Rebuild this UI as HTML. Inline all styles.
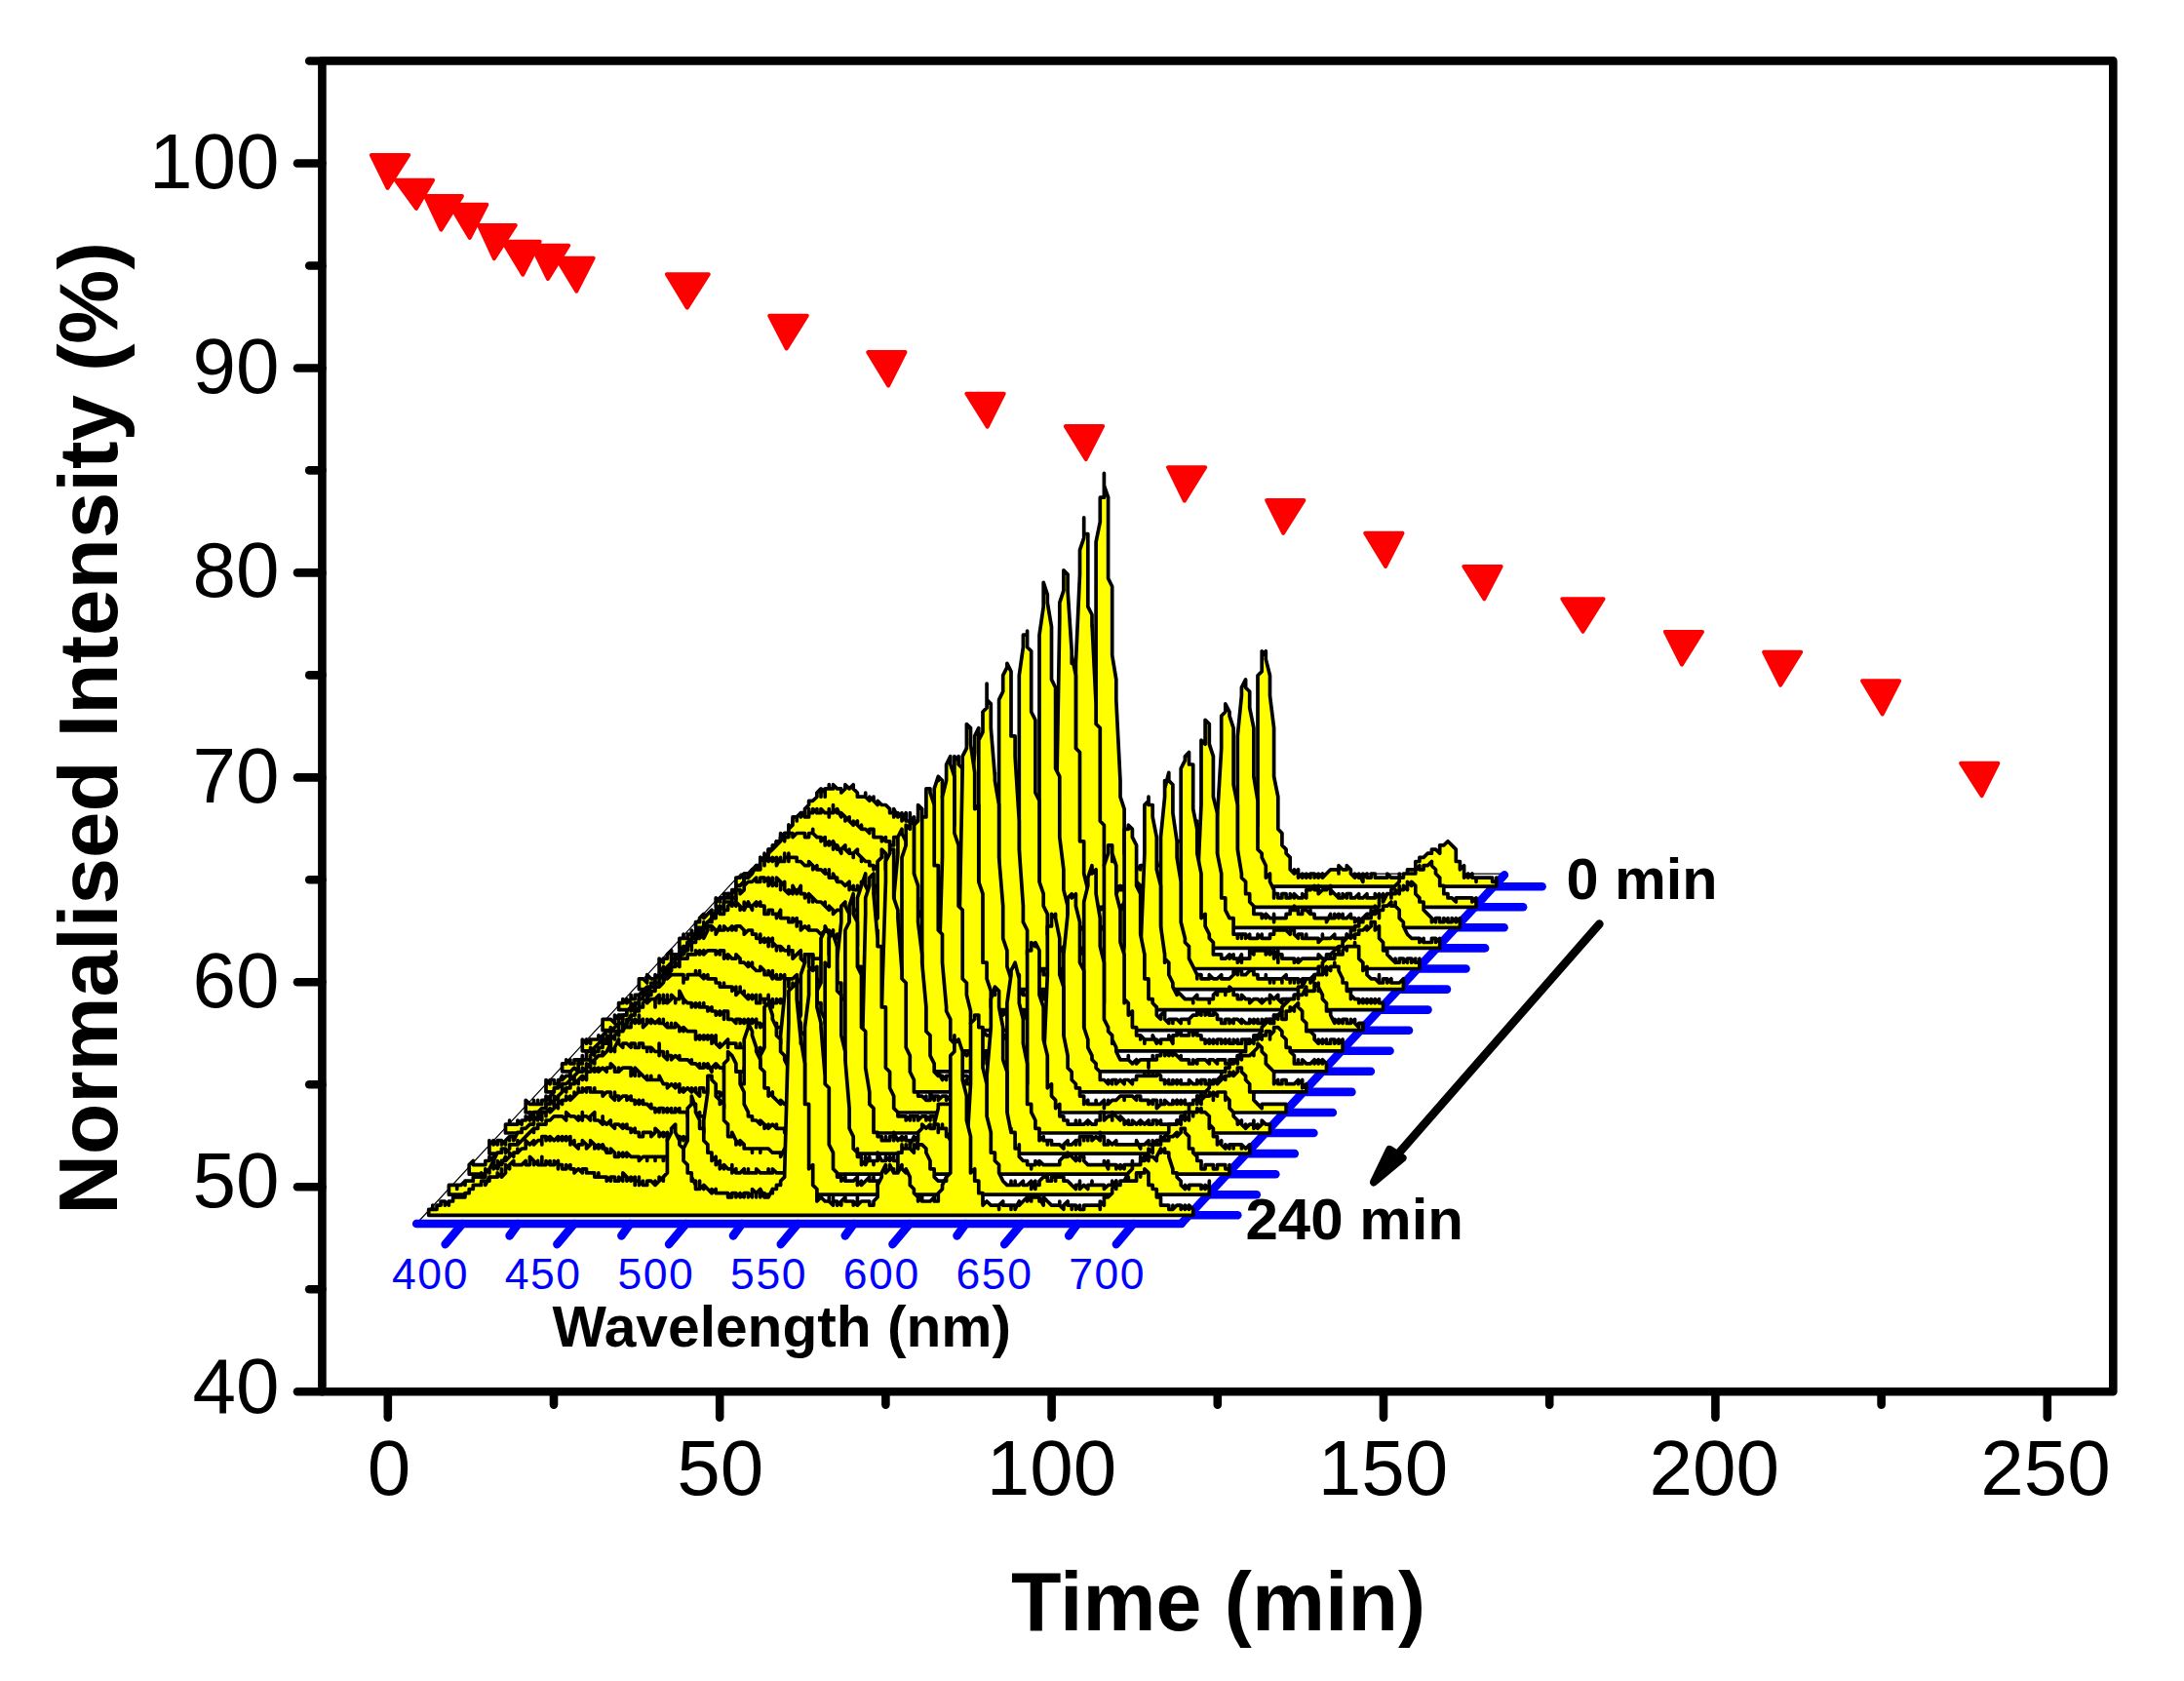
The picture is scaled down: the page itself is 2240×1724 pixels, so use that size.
<!DOCTYPE html>
<html lang="en">
<head>
<meta charset="utf-8">
<title>Normalised Intensity vs Time</title>
<style>
html,body{margin:0;padding:0;background:#fff;}
body{width:2240px;height:1724px;overflow:hidden;}
svg{display:block;}
</style>
</head>
<body>
<svg width="2240" height="1724" viewBox="0 0 2240 1724">
<rect x="0" y="0" width="2240" height="1724" fill="#ffffff"/>
<g fill="#ff0000" stroke="#ff0000" stroke-width="4" stroke-linejoin="round">
<path d="M380.9 159.0H419.2L397.5 192.9Z"/>
<path d="M405.8 184.8H444.1L426.9 213.9Z"/>
<path d="M436.1 201.1H473.9L452.4 235.6Z"/>
<path d="M461.3 209.8H499.3L481.8 243.9Z"/>
<path d="M491.0 230.9H528.8L506.8 265.2Z"/>
<path d="M515.7 247.7H553.7L536.3 281.6Z"/>
<path d="M545.2 251.7H583.2L562.0 286.0Z"/>
<path d="M570.7 264.7H608.7L591.3 298.6Z"/>
<path d="M683.9 281.2H726.8L704.8 315.6Z"/>
<path d="M789.2 323.8H827.8L806.7 357.5Z"/>
<path d="M890.2 361.1H928.5L911.1 395.5Z"/>
<path d="M991.4 403.7H1029.7L1012.7 437.6Z"/>
<path d="M1092.8 437.1H1131.1L1113.7 471.0Z"/>
<path d="M1198.0 479.2H1236.2L1214.8 513.6Z"/>
<path d="M1299.2 513.1H1337.3L1316.2 546.8Z"/>
<path d="M1400.2 546.8H1438.5L1421.1 580.9Z"/>
<path d="M1501.4 580.9H1539.7L1522.3 614.3Z"/>
<path d="M1602.3 614.3H1644.6L1623.5 647.8Z"/>
<path d="M1707.9 647.9H1746.0L1724.9 681.6Z"/>
<path d="M1809.1 668.8H1847.2L1826.1 702.7Z"/>
<path d="M1910.0 698.3H1948.1L1930.7 732.4Z"/>
<path d="M2011.2 782.8H2049.3L2032.6 816.2Z"/>
</g>
<path d="M427.2 1255.0L759.7 896.2L1544.0 896.2" fill="none" stroke="#000" stroke-width="1.2"/>
<g stroke="#0000ff" stroke-width="8.6" stroke-linecap="round" fill="none">
<path d="M427.2 1255.0H1211.8"/>
<path d="M1211.8 1254.7L1542.9 897.4"/>
<path d="M474.3 1255.0l-17.6 21.1"/>
<path d="M531.6 1255.0l-9.0 12.4"/>
<path d="M589.0 1255.0l-17.6 21.1"/>
<path d="M646.4 1255.0l-9.0 12.4"/>
<path d="M703.7 1255.0l-17.6 21.1"/>
<path d="M761.0 1255.0l-9.0 12.4"/>
<path d="M818.4 1255.0l-17.6 21.1"/>
<path d="M875.8 1255.0l-9.0 12.4"/>
<path d="M933.1 1255.0l-17.6 21.1"/>
<path d="M990.5 1255.0l-9.0 12.4"/>
<path d="M1047.8 1255.0l-17.6 21.1"/>
<path d="M1105.2 1255.0l-9.0 12.4"/>
<path d="M1162.5 1255.0l-17.6 21.1"/>
<path d="M1531.9 909.2h49.7"/>
<path d="M1512.4 930.3h49.7"/>
<path d="M1492.9 951.3h49.7"/>
<path d="M1473.4 972.4h49.7"/>
<path d="M1453.8 993.5h49.7"/>
<path d="M1434.3 1014.6h49.7"/>
<path d="M1414.8 1035.6h49.7"/>
<path d="M1395.3 1056.7h49.7"/>
<path d="M1375.8 1077.8h49.7"/>
<path d="M1356.2 1098.8h49.7"/>
<path d="M1336.7 1119.9h49.7"/>
<path d="M1317.2 1141.0h49.7"/>
<path d="M1297.7 1162.0h49.7"/>
<path d="M1278.1 1183.1h49.7"/>
<path d="M1258.6 1204.2h49.7"/>
<path d="M1239.1 1225.2h49.7"/>
<path d="M1219.6 1246.3h49.7"/>
</g>
<g fill="#ffff00" stroke="#000000" stroke-width="3.7" stroke-linejoin="round" stroke-linecap="round">
<path d="M754.9 909.2L754.9 900.1L759.1 900.1L763.2 896.0L767.4 896.0L771.5 896.0L771.5 891.8L775.7 891.8L779.8 887.7L779.8 883.5L784.0 883.5L784.0 879.4L788.1 879.4L788.1 871.1L792.3 871.1L796.4 866.9L796.4 862.8L800.6 862.8L800.6 858.6L804.7 858.6L804.7 854.5L808.9 854.5L808.9 846.2L813.0 850.3L813.0 842.0L817.2 842.0L817.2 837.9L821.3 837.9L821.3 833.7L825.5 833.7L825.5 829.6L829.6 825.5L829.6 821.3L829.6 825.5L829.6 821.3L833.7 821.3L837.9 817.2L837.9 813.0L842.0 808.9L842.0 817.2L842.0 813.0L846.2 808.9L846.2 817.2L846.2 808.9L850.3 808.9L850.3 804.7L850.3 808.9L854.5 808.9L854.5 804.7L858.6 808.9L862.8 808.9L862.8 813.0L866.9 808.9L866.9 804.7L871.1 808.9L875.2 804.7L875.2 808.9L879.4 813.0L879.4 817.2L883.5 817.2L887.7 817.2L887.7 813.0L887.7 817.2L891.8 821.3L891.8 817.2L896.0 821.3L896.0 817.2L896.0 821.3L900.1 825.5L900.1 821.3L904.3 825.5L908.4 825.5L912.6 829.6L912.6 833.7L916.7 833.7L916.7 829.6L916.7 837.9L916.7 829.6L920.9 837.9L920.9 833.7L920.9 837.9L925.0 833.7L925.0 842.0L929.2 833.7L929.2 842.0L933.3 842.0L937.4 837.9L937.4 842.0L941.6 842.0L941.6 846.2L941.6 837.9L945.7 842.0L949.9 846.2L954.0 842.0L954.0 846.2L958.2 846.2L958.2 842.0L958.2 846.2L962.3 846.2L962.3 842.0L966.5 850.3L966.5 846.2L966.5 850.3L970.6 850.3L970.6 846.2L974.8 846.2L974.8 850.3L974.8 846.2L978.9 850.3L978.9 854.5L983.1 846.2L983.1 850.3L987.2 850.3L987.2 854.5L991.4 850.3L991.4 842.0L995.5 837.9L995.5 821.3L999.7 771.5L999.7 754.9L1003.8 746.6L1003.8 759.1L1008.0 767.4L1008.0 779.8L1012.1 792.3L1012.1 808.9L1016.3 808.9L1016.3 821.3L1020.4 825.5L1020.4 846.2L1024.6 850.3L1024.6 854.5L1028.7 854.5L1028.7 862.8L1032.9 862.8L1037.0 862.8L1037.0 866.9L1041.1 866.9L1041.1 871.1L1045.3 866.9L1045.3 871.1L1045.3 866.9L1045.3 871.1L1049.4 871.1L1053.6 871.1L1053.6 875.2L1053.6 871.1L1057.7 871.1L1057.7 875.2L1061.9 871.1L1061.9 875.2L1066.0 879.4L1066.0 875.2L1070.2 875.2L1070.2 871.1L1074.3 875.2L1074.3 879.4L1074.3 875.2L1078.5 879.4L1078.5 883.5L1078.5 875.2L1082.6 875.2L1082.6 879.4L1086.8 879.4L1086.8 875.2L1090.9 875.2L1095.1 875.2L1095.1 879.4L1099.2 875.2L1099.2 879.4L1099.2 875.2L1103.4 879.4L1107.5 879.4L1107.5 871.1L1111.7 875.2L1111.7 866.9L1111.7 871.1L1115.8 862.8L1115.8 858.6L1120.0 858.6L1120.0 846.2L1124.1 837.9L1124.1 555.8L1128.3 535.1L1128.3 510.2L1132.4 510.2L1132.4 485.3L1132.4 497.8L1136.6 510.2L1136.6 593.2L1140.7 601.5L1140.7 672.0L1144.8 696.9L1144.8 717.6L1149.0 800.6L1149.0 817.2L1153.1 829.6L1153.1 875.2L1157.3 875.2L1157.3 887.7L1161.4 887.7L1165.6 891.8L1169.7 887.7L1169.7 891.8L1169.7 887.7L1173.9 887.7L1173.9 891.8L1178.0 887.7L1178.0 891.8L1178.0 887.7L1182.2 887.7L1182.2 891.8L1186.3 891.8L1186.3 887.7L1186.3 891.8L1190.5 891.8L1190.5 887.7L1190.5 891.8L1194.6 887.7L1198.8 887.7L1198.8 891.8L1202.9 891.8L1202.9 887.7L1207.1 887.7L1207.1 891.8L1211.2 887.7L1211.2 879.4L1215.4 866.9L1215.4 842.0L1219.5 842.0L1219.5 837.9L1219.5 842.0L1219.5 837.9L1223.7 837.9L1223.7 842.0L1227.8 846.2L1227.8 842.0L1227.8 846.2L1232.0 846.2L1232.0 837.9L1236.1 842.0L1236.1 846.2L1236.1 842.0L1240.3 842.0L1240.3 833.7L1240.3 842.0L1244.4 854.5L1244.4 862.8L1248.5 866.9L1248.5 875.2L1252.7 883.5L1252.7 887.7L1256.8 887.7L1261.0 887.7L1265.1 891.8L1265.1 887.7L1269.3 887.7L1269.3 891.8L1273.4 891.8L1273.4 887.7L1277.6 887.7L1277.6 879.4L1281.7 879.4L1281.7 871.1L1285.9 866.9L1285.9 854.5L1290.0 846.2L1290.0 692.7L1294.2 688.6L1294.2 667.8L1294.2 672.0L1298.3 667.8L1298.3 676.1L1302.5 692.7L1302.5 713.5L1306.6 746.6L1306.6 796.4L1310.8 817.2L1310.8 850.3L1314.9 854.5L1314.9 866.9L1319.1 871.1L1319.1 875.2L1323.2 879.4L1323.2 891.8L1327.4 896.0L1327.4 891.8L1327.4 896.0L1331.5 891.8L1331.5 900.1L1331.5 896.0L1335.7 900.1L1335.7 896.0L1339.8 900.1L1339.8 896.0L1344.0 900.1L1344.0 896.0L1348.1 896.0L1348.1 900.1L1348.1 896.0L1352.2 900.1L1352.2 896.0L1352.2 900.1L1356.4 896.0L1356.4 900.1L1360.5 896.0L1364.7 891.8L1368.8 891.8L1373.0 891.8L1373.0 896.0L1373.0 887.7L1377.1 891.8L1381.3 891.8L1381.3 887.7L1385.4 891.8L1385.4 896.0L1389.6 900.1L1389.6 896.0L1393.7 900.1L1393.7 896.0L1397.9 904.3L1397.9 896.0L1397.9 900.1L1402.0 896.0L1402.0 900.1L1406.2 900.1L1406.2 896.0L1410.3 896.0L1410.3 900.1L1414.5 900.1L1418.6 900.1L1422.8 900.1L1422.8 896.0L1426.9 900.1L1431.1 900.1L1435.2 900.1L1435.2 896.0L1435.2 900.1L1439.4 900.1L1443.5 896.0L1443.5 891.8L1447.7 891.8L1451.8 891.8L1451.8 883.5L1455.9 883.5L1455.9 879.4L1460.1 879.4L1464.2 875.2L1468.4 875.2L1468.4 871.1L1472.5 871.1L1476.7 875.2L1476.7 866.9L1480.8 866.9L1485.0 862.8L1489.1 866.9L1493.3 871.1L1493.3 883.5L1497.4 883.5L1497.4 891.8L1501.6 887.7L1501.6 900.1L1505.7 896.0L1505.7 900.1L1509.9 896.0L1509.9 900.1L1514.0 900.1L1514.0 904.3L1514.0 900.1L1518.2 900.1L1522.3 900.1L1526.5 900.1L1530.6 900.1L1530.6 904.3L1534.8 904.3L1534.8 900.1L1534.8 909.2Z"/>
<path d="M734.2 930.3L734.2 920.9L738.3 925.0L738.3 920.9L742.5 920.9L742.5 916.7L746.6 916.7L750.8 916.7L750.8 920.9L750.8 916.7L754.9 912.6L754.9 908.4L759.1 908.4L763.2 904.3L763.2 900.1L767.4 896.0L767.4 900.1L767.4 896.0L771.5 896.0L771.5 891.8L775.7 887.7L775.7 891.8L775.7 887.7L779.8 887.7L779.8 879.4L784.0 883.5L784.0 879.4L788.1 879.4L788.1 871.1L792.3 871.1L792.3 866.9L796.4 866.9L796.4 862.8L796.4 866.9L800.6 862.8L800.6 858.6L804.7 854.5L808.9 854.5L808.9 846.2L808.9 850.3L813.0 846.2L813.0 837.9L817.2 837.9L817.2 842.0L817.2 837.9L821.3 833.7L821.3 837.9L825.5 833.7L825.5 837.9L829.6 837.9L829.6 829.6L829.6 833.7L833.7 833.7L833.7 829.6L837.9 833.7L837.9 829.6L837.9 833.7L842.0 833.7L842.0 829.6L846.2 833.7L850.3 833.7L850.3 829.6L850.3 837.9L850.3 833.7L854.5 833.7L854.5 825.5L854.5 829.6L858.6 833.7L858.6 829.6L862.8 837.9L862.8 833.7L866.9 837.9L866.9 842.0L871.1 837.9L871.1 842.0L875.2 846.2L875.2 842.0L875.2 846.2L879.4 842.0L879.4 846.2L883.5 850.3L883.5 846.2L883.5 850.3L887.7 850.3L891.8 854.5L891.8 850.3L896.0 850.3L896.0 858.6L900.1 858.6L904.3 858.6L904.3 862.8L904.3 858.6L908.4 862.8L908.4 858.6L908.4 862.8L912.6 862.8L912.6 866.9L916.7 866.9L916.7 858.6L920.9 858.6L920.9 862.8L925.0 866.9L925.0 862.8L925.0 866.9L929.2 866.9L933.3 866.9L933.3 871.1L937.4 866.9L937.4 862.8L937.4 866.9L941.6 866.9L941.6 871.1L945.7 871.1L945.7 866.9L949.9 871.1L949.9 866.9L949.9 871.1L954.0 871.1L954.0 866.9L958.2 875.2L958.2 871.1L962.3 871.1L962.3 875.2L966.5 871.1L966.5 875.2L970.6 871.1L970.6 875.2L974.8 866.9L974.8 854.5L978.9 846.2L978.9 775.7L983.1 779.8L983.1 775.7L983.1 784.0L987.2 788.1L987.2 804.7L991.4 813.0L991.4 821.3L995.5 825.5L995.5 842.0L999.7 846.2L999.7 858.6L1003.8 866.9L1003.8 875.2L1008.0 879.4L1008.0 883.5L1012.1 879.4L1012.1 887.7L1016.3 887.7L1020.4 887.7L1020.4 891.8L1024.6 887.7L1024.6 891.8L1024.6 887.7L1028.7 887.7L1028.7 896.0L1028.7 891.8L1032.9 896.0L1032.9 891.8L1032.9 896.0L1037.0 896.0L1041.1 896.0L1041.1 900.1L1045.3 900.1L1045.3 896.0L1049.4 900.1L1049.4 896.0L1053.6 896.0L1053.6 900.1L1057.7 896.0L1057.7 900.1L1061.9 900.1L1061.9 896.0L1066.0 896.0L1066.0 900.1L1066.0 896.0L1066.0 900.1L1070.2 900.1L1070.2 891.8L1070.2 896.0L1074.3 900.1L1074.3 896.0L1078.5 896.0L1078.5 900.1L1082.6 900.1L1086.8 896.0L1090.9 896.0L1090.9 887.7L1095.1 887.7L1095.1 879.4L1099.2 883.5L1099.2 871.1L1103.4 866.9L1103.4 680.3L1107.5 589.0L1107.5 564.1L1111.7 551.7L1111.7 530.9L1111.7 547.5L1115.8 547.5L1115.8 622.2L1120.0 630.5L1120.0 642.9L1120.0 638.8L1124.1 721.8L1124.1 742.5L1128.3 746.6L1128.3 842.0L1132.4 846.2L1132.4 887.7L1136.6 891.8L1136.6 904.3L1140.7 908.4L1144.8 908.4L1144.8 916.7L1149.0 908.4L1149.0 912.6L1153.1 912.6L1153.1 908.4L1153.1 912.6L1157.3 912.6L1157.3 908.4L1157.3 912.6L1161.4 908.4L1161.4 912.6L1165.6 908.4L1165.6 912.6L1169.7 912.6L1169.7 908.4L1173.9 912.6L1173.9 908.4L1178.0 912.6L1182.2 912.6L1186.3 912.6L1186.3 908.4L1190.5 912.6L1190.5 904.3L1194.6 900.1L1194.6 875.2L1198.8 862.8L1198.8 858.6L1202.9 866.9L1202.9 862.8L1207.1 862.8L1211.2 862.8L1215.4 862.8L1215.4 866.9L1215.4 862.8L1219.5 862.8L1219.5 858.6L1219.5 862.8L1223.7 866.9L1223.7 883.5L1227.8 887.7L1227.8 891.8L1232.0 896.0L1232.0 904.3L1236.1 908.4L1240.3 908.4L1240.3 912.6L1240.3 908.4L1244.4 908.4L1244.4 912.6L1244.4 908.4L1248.5 912.6L1248.5 908.4L1248.5 912.6L1252.7 908.4L1252.7 912.6L1256.8 908.4L1256.8 904.3L1261.0 900.1L1265.1 891.8L1265.1 883.5L1269.3 879.4L1269.3 754.9L1273.4 713.5L1273.4 705.2L1277.6 696.9L1277.6 705.2L1281.7 709.3L1281.7 725.9L1285.9 746.6L1285.9 796.4L1290.0 821.3L1290.0 871.1L1294.2 875.2L1294.2 879.4L1298.3 887.7L1298.3 900.1L1302.5 896.0L1302.5 904.3L1306.6 912.6L1306.6 920.9L1306.6 916.7L1310.8 916.7L1310.8 920.9L1314.9 920.9L1314.9 916.7L1319.1 916.7L1319.1 920.9L1323.2 920.9L1323.2 916.7L1327.4 920.9L1327.4 916.7L1331.5 920.9L1335.7 920.9L1335.7 916.7L1339.8 920.9L1339.8 912.6L1344.0 912.6L1348.1 908.4L1348.1 912.6L1352.2 912.6L1352.2 916.7L1352.2 908.4L1352.2 916.7L1356.4 912.6L1360.5 912.6L1364.7 908.4L1364.7 916.7L1364.7 912.6L1368.8 916.7L1373.0 920.9L1373.0 916.7L1373.0 920.9L1377.1 920.9L1377.1 916.7L1381.3 920.9L1381.3 916.7L1385.4 916.7L1385.4 920.9L1389.6 920.9L1393.7 916.7L1393.7 920.9L1397.9 920.9L1402.0 916.7L1402.0 920.9L1406.2 920.9L1410.3 920.9L1410.3 916.7L1410.3 920.9L1414.5 916.7L1414.5 920.9L1418.6 920.9L1422.8 916.7L1422.8 920.9L1426.9 916.7L1426.9 912.6L1431.1 908.4L1435.2 904.3L1435.2 900.1L1439.4 900.1L1439.4 896.0L1443.5 896.0L1447.7 896.0L1451.8 896.0L1451.8 891.8L1455.9 887.7L1455.9 891.8L1460.1 891.8L1460.1 887.7L1464.2 887.7L1468.4 883.5L1468.4 887.7L1472.5 891.8L1472.5 896.0L1476.7 900.1L1476.7 908.4L1480.8 908.4L1480.8 916.7L1485.0 916.7L1485.0 920.9L1489.1 920.9L1493.3 925.0L1493.3 920.9L1497.4 920.9L1501.6 920.9L1505.7 920.9L1509.9 920.9L1509.9 925.0L1514.0 920.9L1514.0 930.3Z"/>
<path d="M713.5 951.3L713.5 945.7L717.6 945.7L717.6 941.6L721.8 937.4L721.8 941.6L725.9 937.4L730.0 933.3L730.0 937.4L734.2 937.4L738.3 929.2L738.3 933.3L742.5 929.2L742.5 925.0L746.6 925.0L746.6 916.7L750.8 916.7L750.8 912.6L754.9 912.6L759.1 908.4L763.2 904.3L763.2 896.0L767.4 896.0L771.5 891.8L771.5 896.0L775.7 891.8L779.8 887.7L779.8 883.5L784.0 883.5L784.0 875.2L784.0 879.4L788.1 875.2L792.3 871.1L796.4 866.9L796.4 862.8L796.4 866.9L800.6 862.8L800.6 854.5L804.7 862.8L804.7 854.5L804.7 858.6L808.9 858.6L808.9 854.5L813.0 854.5L813.0 858.6L817.2 854.5L821.3 854.5L825.5 854.5L825.5 858.6L829.6 858.6L829.6 854.5L829.6 858.6L829.6 854.5L833.7 854.5L833.7 850.3L833.7 854.5L837.9 858.6L842.0 858.6L842.0 862.8L846.2 858.6L846.2 866.9L846.2 862.8L850.3 866.9L850.3 862.8L850.3 866.9L854.5 862.8L854.5 871.1L854.5 862.8L858.6 871.1L858.6 866.9L862.8 875.2L862.8 871.1L866.9 866.9L866.9 871.1L871.1 875.2L871.1 871.1L871.1 875.2L875.2 875.2L875.2 879.4L875.2 875.2L879.4 871.1L879.4 875.2L883.5 879.4L883.5 883.5L883.5 879.4L887.7 883.5L891.8 883.5L891.8 887.7L896.0 887.7L896.0 891.8L896.0 887.7L900.1 891.8L900.1 887.7L904.3 891.8L908.4 887.7L908.4 883.5L912.6 891.8L912.6 887.7L916.7 891.8L916.7 887.7L916.7 891.8L920.9 891.8L925.0 891.8L925.0 896.0L925.0 891.8L929.2 891.8L929.2 896.0L933.3 891.8L933.3 896.0L937.4 896.0L937.4 891.8L937.4 900.1L941.6 896.0L941.6 891.8L945.7 900.1L945.7 891.8L945.7 900.1L949.9 896.0L949.9 891.8L954.0 891.8L954.0 883.5L958.2 879.4L958.2 808.9L962.3 796.4L962.3 800.6L962.3 796.4L966.5 800.6L966.5 817.2L970.6 829.6L970.6 846.2L974.8 850.3L974.8 862.8L978.9 866.9L978.9 879.4L983.1 891.8L983.1 896.0L987.2 900.1L987.2 896.0L987.2 904.3L991.4 904.3L991.4 908.4L991.4 904.3L995.5 904.3L995.5 908.4L999.7 912.6L1003.8 908.4L1003.8 912.6L1008.0 912.6L1012.1 912.6L1016.3 916.7L1016.3 920.9L1020.4 916.7L1020.4 920.9L1020.4 916.7L1024.6 920.9L1024.6 916.7L1024.6 920.9L1028.7 920.9L1028.7 916.7L1032.9 916.7L1032.9 920.9L1037.0 916.7L1037.0 920.9L1037.0 916.7L1041.1 920.9L1041.1 925.0L1041.1 912.6L1045.3 916.7L1045.3 920.9L1049.4 920.9L1053.6 920.9L1053.6 916.7L1057.7 920.9L1057.7 916.7L1057.7 920.9L1061.9 920.9L1061.9 925.0L1066.0 916.7L1066.0 920.9L1066.0 916.7L1070.2 920.9L1070.2 916.7L1074.3 912.6L1074.3 908.4L1078.5 908.4L1078.5 900.1L1082.6 896.0L1082.6 879.4L1086.8 634.6L1086.8 618.1L1090.9 605.6L1090.9 584.9L1095.1 589.0L1095.1 605.6L1099.2 667.8L1099.2 680.3L1099.2 672.0L1103.4 692.7L1103.4 767.4L1107.5 771.5L1107.5 862.8L1111.7 862.8L1111.7 896.0L1115.8 912.6L1115.8 920.9L1120.0 929.2L1120.0 933.3L1124.1 933.3L1128.3 933.3L1132.4 929.2L1132.4 933.3L1136.6 933.3L1140.7 937.4L1140.7 929.2L1144.8 937.4L1144.8 929.2L1144.8 933.3L1149.0 933.3L1149.0 929.2L1149.0 933.3L1153.1 933.3L1153.1 929.2L1153.1 933.3L1157.3 933.3L1157.3 929.2L1161.4 933.3L1161.4 929.2L1161.4 933.3L1165.6 933.3L1165.6 937.4L1169.7 933.3L1173.9 925.0L1173.9 912.6L1178.0 891.8L1178.0 883.5L1182.2 887.7L1182.2 883.5L1186.3 883.5L1186.3 887.7L1190.5 887.7L1190.5 883.5L1194.6 887.7L1198.8 883.5L1198.8 887.7L1202.9 883.5L1202.9 900.1L1207.1 900.1L1207.1 908.4L1211.2 912.6L1211.2 925.0L1215.4 925.0L1215.4 933.3L1219.5 929.2L1219.5 933.3L1223.7 933.3L1227.8 933.3L1232.0 933.3L1236.1 933.3L1236.1 929.2L1236.1 933.3L1240.3 925.0L1240.3 920.9L1244.4 912.6L1244.4 908.4L1248.5 900.1L1248.5 837.9L1252.7 767.4L1252.7 734.2L1256.8 730.0L1256.8 721.8L1261.0 730.0L1261.0 734.2L1265.1 746.6L1265.1 804.7L1269.3 825.5L1269.3 871.1L1273.4 896.0L1273.4 900.1L1277.6 904.3L1277.6 916.7L1281.7 916.7L1281.7 925.0L1285.9 929.2L1285.9 937.4L1290.0 937.4L1294.2 937.4L1294.2 941.6L1298.3 937.4L1298.3 941.6L1298.3 937.4L1302.5 941.6L1306.6 941.6L1306.6 945.7L1306.6 937.4L1306.6 941.6L1310.8 941.6L1314.9 941.6L1319.1 941.6L1319.1 937.4L1323.2 937.4L1323.2 933.3L1327.4 933.3L1327.4 929.2L1327.4 933.3L1331.5 933.3L1331.5 937.4L1335.7 937.4L1335.7 933.3L1339.8 933.3L1344.0 937.4L1344.0 933.3L1344.0 937.4L1348.1 937.4L1348.1 941.6L1352.2 941.6L1356.4 941.6L1360.5 941.6L1360.5 945.7L1364.7 937.4L1364.7 941.6L1368.8 941.6L1368.8 937.4L1368.8 941.6L1373.0 937.4L1373.0 941.6L1373.0 937.4L1377.1 941.6L1377.1 937.4L1377.1 941.6L1381.3 941.6L1385.4 937.4L1385.4 941.6L1389.6 941.6L1389.6 945.7L1393.7 941.6L1397.9 945.7L1397.9 941.6L1402.0 937.4L1402.0 941.6L1402.0 937.4L1406.2 937.4L1406.2 933.3L1406.2 937.4L1410.3 933.3L1410.3 929.2L1410.3 933.3L1414.5 929.2L1414.5 920.9L1418.6 916.7L1418.6 925.0L1422.8 916.7L1426.9 916.7L1426.9 920.9L1426.9 916.7L1431.1 916.7L1431.1 912.6L1435.2 916.7L1435.2 908.4L1435.2 912.6L1439.4 912.6L1439.4 908.4L1443.5 912.6L1443.5 904.3L1447.7 908.4L1447.7 904.3L1451.8 908.4L1451.8 916.7L1455.9 920.9L1455.9 925.0L1460.1 925.0L1460.1 933.3L1464.2 937.4L1468.4 941.6L1468.4 945.7L1468.4 941.6L1472.5 945.7L1472.5 941.6L1476.7 941.6L1476.7 945.7L1480.8 945.7L1480.8 941.6L1485.0 945.7L1485.0 941.6L1485.0 945.7L1489.1 945.7L1489.1 941.6L1493.3 945.7L1493.3 941.6L1493.3 945.7L1497.4 941.6L1497.4 951.3Z"/>
<path d="M696.9 972.4L696.9 962.3L701.0 962.3L701.0 958.2L701.0 962.3L705.2 962.3L705.2 958.2L709.3 958.2L709.3 954.0L709.3 958.2L713.5 958.2L717.6 954.0L721.8 954.0L721.8 949.9L725.9 945.7L725.9 949.9L725.9 945.7L730.0 941.6L730.0 937.4L734.2 941.6L734.2 933.3L738.3 933.3L742.5 929.2L742.5 920.9L746.6 920.9L746.6 916.7L746.6 920.9L750.8 920.9L750.8 916.7L754.9 912.6L754.9 908.4L759.1 908.4L763.2 904.3L763.2 900.1L767.4 900.1L767.4 896.0L767.4 900.1L771.5 896.0L775.7 887.7L775.7 891.8L779.8 891.8L779.8 879.4L784.0 883.5L784.0 887.7L784.0 883.5L788.1 879.4L788.1 875.2L788.1 883.5L792.3 879.4L792.3 883.5L796.4 879.4L796.4 887.7L800.6 879.4L800.6 883.5L804.7 883.5L804.7 875.2L804.7 879.4L808.9 879.4L808.9 875.2L808.9 883.5L808.9 879.4L813.0 879.4L817.2 879.4L817.2 883.5L821.3 883.5L825.5 887.7L829.6 887.7L829.6 883.5L833.7 887.7L833.7 891.8L837.9 887.7L837.9 891.8L842.0 891.8L846.2 896.0L846.2 891.8L846.2 896.0L850.3 896.0L850.3 900.1L850.3 891.8L850.3 900.1L854.5 900.1L854.5 896.0L858.6 904.3L858.6 900.1L858.6 904.3L862.8 904.3L866.9 908.4L871.1 904.3L871.1 912.6L871.1 908.4L875.2 912.6L875.2 908.4L875.2 912.6L879.4 912.6L879.4 908.4L883.5 912.6L883.5 908.4L887.7 912.6L887.7 916.7L887.7 908.4L891.8 912.6L891.8 908.4L896.0 908.4L896.0 916.7L896.0 908.4L900.1 908.4L900.1 916.7L904.3 916.7L908.4 912.6L908.4 916.7L912.6 912.6L912.6 916.7L916.7 916.7L920.9 920.9L920.9 912.6L920.9 916.7L925.0 920.9L925.0 916.7L929.2 916.7L933.3 920.9L933.3 916.7L937.4 908.4L937.4 846.2L941.6 842.0L941.6 825.5L945.7 829.6L945.7 837.9L949.9 842.0L949.9 858.6L954.0 862.8L954.0 875.2L958.2 883.5L958.2 904.3L962.3 908.4L962.3 916.7L966.5 916.7L966.5 920.9L970.6 920.9L970.6 929.2L974.8 929.2L974.8 925.0L978.9 929.2L978.9 933.3L983.1 933.3L983.1 937.4L987.2 933.3L987.2 937.4L991.4 937.4L995.5 941.6L995.5 937.4L999.7 937.4L999.7 933.3L999.7 937.4L1003.8 941.6L1008.0 941.6L1012.1 937.4L1016.3 941.6L1016.3 937.4L1020.4 941.6L1020.4 937.4L1020.4 941.6L1024.6 941.6L1024.6 945.7L1024.6 941.6L1028.7 937.4L1028.7 941.6L1032.9 941.6L1032.9 945.7L1037.0 941.6L1037.0 945.7L1037.0 941.6L1041.1 941.6L1041.1 945.7L1045.3 945.7L1045.3 937.4L1045.3 945.7L1045.3 937.4L1049.4 937.4L1053.6 933.3L1053.6 929.2L1053.6 933.3L1057.7 929.2L1057.7 920.9L1061.9 916.7L1061.9 908.4L1066.0 908.4L1066.0 651.2L1066.0 655.4L1066.0 651.2L1070.2 622.2L1070.2 597.3L1074.3 609.8L1074.3 618.1L1078.5 642.9L1078.5 696.9L1082.6 705.2L1082.6 788.1L1086.8 796.4L1086.8 858.6L1090.9 891.8L1090.9 912.6L1095.1 929.2L1095.1 941.6L1099.2 945.7L1099.2 949.9L1103.4 954.0L1103.4 958.2L1107.5 954.0L1111.7 949.9L1111.7 958.2L1111.7 954.0L1115.8 958.2L1115.8 949.9L1120.0 954.0L1124.1 954.0L1124.1 949.9L1128.3 954.0L1128.3 949.9L1128.3 954.0L1132.4 954.0L1132.4 949.9L1132.4 954.0L1136.6 954.0L1140.7 949.9L1140.7 958.2L1140.7 954.0L1144.8 954.0L1149.0 949.9L1149.0 954.0L1153.1 954.0L1153.1 945.7L1153.1 949.9L1153.1 929.2L1157.3 916.7L1157.3 908.4L1161.4 912.6L1161.4 908.4L1165.6 908.4L1165.6 912.6L1165.6 904.3L1169.7 908.4L1169.7 912.6L1173.9 912.6L1173.9 908.4L1178.0 908.4L1182.2 908.4L1182.2 904.3L1182.2 908.4L1186.3 916.7L1186.3 933.3L1190.5 937.4L1190.5 941.6L1194.6 945.7L1194.6 954.0L1198.8 954.0L1198.8 949.9L1198.8 954.0L1202.9 954.0L1202.9 949.9L1202.9 954.0L1207.1 954.0L1211.2 954.0L1211.2 949.9L1211.2 954.0L1215.4 949.9L1215.4 954.0L1219.5 949.9L1219.5 937.4L1223.7 941.6L1223.7 929.2L1227.8 929.2L1227.8 916.7L1232.0 825.5L1232.0 759.1L1236.1 763.2L1236.1 738.3L1240.3 742.5L1240.3 763.2L1244.4 775.7L1244.4 817.2L1248.5 833.7L1248.5 875.2L1252.7 896.0L1252.7 920.9L1256.8 920.9L1256.8 933.3L1261.0 941.6L1265.1 941.6L1265.1 958.2L1269.3 958.2L1269.3 962.3L1269.3 958.2L1273.4 958.2L1273.4 962.3L1273.4 958.2L1277.6 958.2L1277.6 962.3L1281.7 958.2L1281.7 962.3L1285.9 962.3L1290.0 962.3L1290.0 958.2L1294.2 962.3L1294.2 958.2L1294.2 962.3L1298.3 962.3L1302.5 962.3L1302.5 958.2L1306.6 958.2L1306.6 954.0L1310.8 954.0L1314.9 954.0L1319.1 954.0L1323.2 958.2L1323.2 954.0L1327.4 954.0L1327.4 958.2L1331.5 962.3L1331.5 958.2L1335.7 958.2L1335.7 962.3L1339.8 962.3L1339.8 958.2L1339.8 962.3L1344.0 962.3L1348.1 962.3L1352.2 962.3L1352.2 966.5L1352.2 962.3L1352.2 966.5L1356.4 962.3L1356.4 958.2L1356.4 962.3L1360.5 962.3L1364.7 962.3L1368.8 958.2L1368.8 962.3L1373.0 962.3L1377.1 962.3L1381.3 962.3L1381.3 958.2L1381.3 962.3L1385.4 958.2L1385.4 954.0L1389.6 954.0L1389.6 949.9L1393.7 949.9L1393.7 945.7L1397.9 945.7L1397.9 941.6L1402.0 941.6L1406.2 941.6L1406.2 937.4L1410.3 937.4L1410.3 933.3L1414.5 937.4L1414.5 941.6L1414.5 933.3L1418.6 933.3L1418.6 929.2L1422.8 929.2L1426.9 925.0L1426.9 929.2L1431.1 929.2L1431.1 925.0L1431.1 929.2L1435.2 933.3L1435.2 941.6L1439.4 945.7L1439.4 949.9L1443.5 958.2L1447.7 962.3L1451.8 962.3L1455.9 962.3L1455.9 966.5L1455.9 962.3L1460.1 966.5L1460.1 962.3L1460.1 966.5L1464.2 966.5L1468.4 966.5L1468.4 962.3L1472.5 962.3L1472.5 966.5L1472.5 962.3L1476.7 966.5L1476.7 962.3L1476.7 972.4Z"/>
<path d="M676.1 993.5L676.1 983.1L680.3 987.2L680.3 983.1L684.4 983.1L684.4 978.9L688.6 974.8L688.6 983.1L688.6 978.9L692.7 978.9L692.7 983.1L692.7 978.9L696.9 978.9L696.9 974.8L701.0 974.8L701.0 970.6L705.2 970.6L705.2 966.5L709.3 962.3L709.3 958.2L709.3 962.3L713.5 958.2L713.5 954.0L717.6 954.0L721.8 954.0L721.8 949.9L725.9 949.9L725.9 945.7L730.0 945.7L730.0 941.6L734.2 941.6L734.2 933.3L738.3 933.3L738.3 929.2L742.5 933.3L742.5 925.0L746.6 925.0L750.8 925.0L750.8 920.9L754.9 920.9L754.9 912.6L759.1 912.6L759.1 916.7L763.2 912.6L763.2 908.4L767.4 904.3L771.5 904.3L775.7 900.1L775.7 904.3L779.8 904.3L779.8 900.1L784.0 900.1L784.0 904.3L788.1 900.1L788.1 908.4L792.3 900.1L792.3 908.4L796.4 904.3L796.4 908.4L796.4 900.1L800.6 904.3L800.6 912.6L800.6 904.3L804.7 908.4L804.7 904.3L804.7 912.6L808.9 916.7L808.9 912.6L813.0 916.7L813.0 908.4L817.2 916.7L817.2 912.6L817.2 916.7L821.3 908.4L821.3 916.7L825.5 916.7L825.5 920.9L829.6 916.7L829.6 925.0L829.6 916.7L833.7 920.9L833.7 925.0L833.7 920.9L837.9 925.0L842.0 925.0L846.2 929.2L846.2 925.0L846.2 929.2L850.3 933.3L850.3 929.2L850.3 933.3L850.3 929.2L854.5 933.3L854.5 937.4L858.6 933.3L862.8 933.3L862.8 937.4L862.8 933.3L866.9 933.3L866.9 937.4L866.9 933.3L871.1 933.3L871.1 937.4L871.1 933.3L871.1 937.4L875.2 937.4L875.2 933.3L879.4 933.3L879.4 937.4L879.4 933.3L883.5 937.4L883.5 933.3L887.7 937.4L887.7 933.3L887.7 937.4L891.8 941.6L891.8 937.4L896.0 941.6L896.0 945.7L896.0 937.4L900.1 937.4L904.3 941.6L904.3 937.4L904.3 941.6L908.4 941.6L912.6 945.7L912.6 937.4L916.7 937.4L916.7 920.9L920.9 875.2L920.9 858.6L925.0 850.3L925.0 854.5L929.2 862.8L929.2 875.2L933.3 879.4L933.3 896.0L937.4 896.0L937.4 920.9L941.6 920.9L941.6 933.3L945.7 941.6L949.9 945.7L949.9 949.9L954.0 949.9L954.0 954.0L958.2 954.0L958.2 949.9L958.2 954.0L962.3 958.2L962.3 954.0L966.5 954.0L966.5 958.2L970.6 958.2L970.6 962.3L974.8 962.3L974.8 954.0L974.8 958.2L978.9 958.2L978.9 962.3L983.1 958.2L983.1 966.5L987.2 958.2L987.2 962.3L991.4 962.3L995.5 958.2L995.5 962.3L999.7 962.3L1003.8 962.3L1003.8 966.5L1003.8 958.2L1008.0 966.5L1008.0 962.3L1012.1 962.3L1012.1 966.5L1016.3 962.3L1016.3 966.5L1020.4 962.3L1020.4 966.5L1020.4 962.3L1024.6 958.2L1024.6 966.5L1028.7 962.3L1032.9 962.3L1032.9 954.0L1037.0 954.0L1041.1 945.7L1041.1 933.3L1045.3 929.2L1045.3 692.7L1049.4 663.7L1049.4 651.2L1053.6 651.2L1053.6 647.1L1053.6 663.7L1057.7 667.8L1057.7 730.0L1061.9 738.3L1061.9 813.0L1066.0 821.3L1066.0 904.3L1070.2 916.7L1070.2 929.2L1074.3 937.4L1074.3 958.2L1078.5 966.5L1078.5 970.6L1082.6 970.6L1082.6 974.8L1082.6 970.6L1086.8 974.8L1090.9 974.8L1090.9 978.9L1090.9 970.6L1090.9 974.8L1095.1 974.8L1095.1 978.9L1099.2 978.9L1099.2 974.8L1103.4 978.9L1103.4 970.6L1107.5 974.8L1111.7 974.8L1111.7 978.9L1115.8 978.9L1115.8 974.8L1120.0 974.8L1124.1 974.8L1124.1 978.9L1128.3 974.8L1128.3 978.9L1128.3 974.8L1132.4 974.8L1132.4 966.5L1136.6 954.0L1136.6 933.3L1140.7 933.3L1140.7 929.2L1144.8 925.0L1144.8 933.3L1144.8 929.2L1149.0 929.2L1149.0 933.3L1153.1 925.0L1153.1 933.3L1153.1 929.2L1157.3 929.2L1161.4 925.0L1161.4 933.3L1165.6 933.3L1165.6 945.7L1169.7 954.0L1169.7 958.2L1173.9 958.2L1173.9 970.6L1178.0 974.8L1178.0 978.9L1178.0 970.6L1182.2 974.8L1186.3 974.8L1190.5 974.8L1190.5 970.6L1190.5 974.8L1194.6 974.8L1194.6 970.6L1198.8 974.8L1198.8 966.5L1202.9 962.3L1202.9 958.2L1207.1 954.0L1207.1 945.7L1211.2 941.6L1211.2 788.1L1215.4 779.8L1215.4 775.7L1219.5 771.5L1219.5 779.8L1219.5 775.7L1219.5 784.0L1223.7 784.0L1223.7 829.6L1227.8 850.3L1227.8 875.2L1232.0 896.0L1232.0 941.6L1236.1 937.4L1236.1 949.9L1240.3 958.2L1240.3 962.3L1244.4 966.5L1244.4 978.9L1248.5 978.9L1252.7 978.9L1252.7 983.1L1256.8 983.1L1261.0 978.9L1261.0 983.1L1265.1 978.9L1265.1 983.1L1269.3 983.1L1269.3 987.2L1273.4 978.9L1273.4 987.2L1273.4 983.1L1277.6 983.1L1281.7 983.1L1281.7 974.8L1285.9 978.9L1285.9 974.8L1290.0 974.8L1294.2 974.8L1298.3 974.8L1298.3 978.9L1298.3 974.8L1302.5 978.9L1302.5 974.8L1306.6 978.9L1306.6 974.8L1306.6 983.1L1310.8 974.8L1310.8 987.2L1310.8 978.9L1314.9 978.9L1314.9 983.1L1319.1 983.1L1323.2 983.1L1327.4 983.1L1327.4 987.2L1331.5 983.1L1331.5 987.2L1335.7 983.1L1339.8 983.1L1344.0 983.1L1348.1 983.1L1352.2 983.1L1352.2 978.9L1356.4 983.1L1360.5 983.1L1360.5 978.9L1364.7 978.9L1364.7 983.1L1364.7 978.9L1368.8 974.8L1373.0 970.6L1373.0 974.8L1373.0 970.6L1377.1 970.6L1377.1 962.3L1377.1 966.5L1381.3 962.3L1381.3 958.2L1385.4 962.3L1389.6 958.2L1389.6 962.3L1389.6 958.2L1393.7 958.2L1393.7 954.0L1397.9 954.0L1402.0 949.9L1402.0 954.0L1406.2 949.9L1406.2 945.7L1410.3 945.7L1410.3 954.0L1414.5 949.9L1414.5 962.3L1418.6 966.5L1418.6 974.8L1422.8 974.8L1422.8 978.9L1426.9 983.1L1431.1 987.2L1431.1 983.1L1431.1 987.2L1435.2 987.2L1435.2 983.1L1439.4 983.1L1439.4 987.2L1439.4 983.1L1443.5 987.2L1443.5 983.1L1447.7 983.1L1447.7 987.2L1451.8 983.1L1451.8 987.2L1455.9 987.2L1455.9 983.1L1455.9 993.5Z"/>
<path d="M655.4 1014.6L655.4 1003.8L659.5 1003.8L663.7 1008.0L663.7 999.7L667.8 1003.8L672.0 1003.8L672.0 999.7L676.1 1003.8L676.1 995.5L680.3 995.5L680.3 991.4L684.4 995.5L684.4 991.4L688.6 987.2L688.6 983.1L692.7 983.1L696.9 983.1L696.9 978.9L701.0 970.6L701.0 974.8L705.2 970.6L705.2 966.5L709.3 966.5L709.3 962.3L713.5 962.3L713.5 954.0L717.6 962.3L717.6 954.0L721.8 958.2L721.8 945.7L721.8 954.0L725.9 945.7L730.0 945.7L730.0 941.6L734.2 941.6L734.2 937.4L738.3 933.3L738.3 937.4L742.5 937.4L742.5 933.3L746.6 933.3L746.6 929.2L750.8 925.0L750.8 929.2L750.8 925.0L754.9 929.2L754.9 920.9L754.9 925.0L759.1 929.2L759.1 933.3L763.2 929.2L763.2 925.0L763.2 933.3L767.4 925.0L767.4 929.2L767.4 925.0L771.5 933.3L771.5 929.2L775.7 925.0L775.7 929.2L779.8 925.0L779.8 929.2L784.0 929.2L784.0 937.4L788.1 937.4L788.1 933.3L792.3 933.3L792.3 937.4L796.4 937.4L796.4 941.6L800.6 933.3L800.6 941.6L804.7 941.6L808.9 941.6L808.9 945.7L813.0 945.7L813.0 941.6L813.0 945.7L817.2 941.6L817.2 949.9L817.2 945.7L821.3 945.7L821.3 954.0L825.5 949.9L829.6 954.0L829.6 949.9L829.6 954.0L833.7 954.0L837.9 954.0L842.0 958.2L846.2 954.0L850.3 958.2L850.3 954.0L854.5 958.2L858.6 962.3L858.6 958.2L862.8 958.2L862.8 954.0L862.8 958.2L866.9 958.2L866.9 962.3L871.1 958.2L871.1 962.3L871.1 958.2L875.2 962.3L875.2 966.5L879.4 962.3L879.4 966.5L879.4 962.3L883.5 962.3L887.7 962.3L891.8 962.3L891.8 966.5L896.0 958.2L896.0 945.7L900.1 941.6L900.1 883.5L904.3 879.4L904.3 871.1L908.4 875.2L908.4 891.8L912.6 900.1L912.6 912.6L916.7 916.7L916.7 933.3L920.9 937.4L920.9 949.9L925.0 958.2L925.0 962.3L929.2 966.5L929.2 970.6L933.3 974.8L933.3 970.6L937.4 978.9L937.4 974.8L941.6 978.9L941.6 974.8L941.6 978.9L945.7 978.9L945.7 983.1L945.7 978.9L949.9 978.9L954.0 983.1L958.2 983.1L958.2 987.2L958.2 983.1L962.3 983.1L962.3 987.2L966.5 987.2L966.5 983.1L970.6 983.1L970.6 987.2L970.6 983.1L974.8 983.1L978.9 987.2L978.9 983.1L978.9 987.2L983.1 987.2L983.1 983.1L983.1 987.2L987.2 987.2L987.2 983.1L991.4 987.2L991.4 983.1L995.5 983.1L995.5 987.2L999.7 987.2L999.7 983.1L999.7 987.2L1003.8 983.1L1003.8 987.2L1003.8 983.1L1003.8 987.2L1008.0 983.1L1008.0 978.9L1012.1 983.1L1012.1 978.9L1016.3 978.9L1016.3 970.6L1020.4 966.5L1020.4 962.3L1024.6 958.2L1024.6 717.6L1028.7 709.3L1028.7 692.7L1032.9 684.4L1032.9 680.3L1037.0 688.6L1037.0 754.9L1041.1 754.9L1041.1 775.7L1045.3 842.0L1045.3 871.1L1049.4 929.2L1049.4 945.7L1053.6 954.0L1053.6 978.9L1057.7 983.1L1057.7 991.4L1061.9 991.4L1061.9 995.5L1066.0 995.5L1070.2 995.5L1070.2 999.7L1074.3 999.7L1074.3 995.5L1074.3 999.7L1078.5 999.7L1078.5 995.5L1082.6 999.7L1082.6 995.5L1086.8 995.5L1090.9 999.7L1090.9 991.4L1090.9 999.7L1090.9 995.5L1095.1 995.5L1095.1 999.7L1095.1 995.5L1099.2 995.5L1099.2 991.4L1099.2 999.7L1103.4 995.5L1107.5 999.7L1107.5 995.5L1111.7 995.5L1111.7 991.4L1115.8 987.2L1115.8 962.3L1120.0 954.0L1120.0 949.9L1124.1 954.0L1124.1 949.9L1128.3 954.0L1132.4 949.9L1132.4 954.0L1136.6 954.0L1136.6 949.9L1140.7 954.0L1140.7 949.9L1144.8 949.9L1144.8 958.2L1149.0 970.6L1149.0 978.9L1153.1 978.9L1153.1 995.5L1157.3 995.5L1157.3 999.7L1157.3 995.5L1161.4 999.7L1165.6 991.4L1165.6 999.7L1165.6 995.5L1169.7 995.5L1169.7 999.7L1169.7 995.5L1173.9 995.5L1178.0 995.5L1178.0 987.2L1182.2 983.1L1182.2 978.9L1186.3 978.9L1186.3 966.5L1190.5 966.5L1190.5 858.6L1194.6 817.2L1194.6 800.6L1194.6 808.9L1198.8 792.3L1198.8 800.6L1202.9 804.7L1202.9 833.7L1207.1 862.8L1207.1 879.4L1211.2 904.3L1211.2 945.7L1215.4 962.3L1215.4 966.5L1219.5 970.6L1219.5 983.1L1223.7 991.4L1227.8 999.7L1227.8 1003.8L1227.8 999.7L1232.0 999.7L1232.0 1003.8L1236.1 1003.8L1240.3 1003.8L1240.3 999.7L1244.4 1003.8L1248.5 1003.8L1252.7 999.7L1252.7 1003.8L1256.8 1003.8L1261.0 1003.8L1265.1 999.7L1265.1 995.5L1265.1 999.7L1269.3 995.5L1269.3 999.7L1269.3 995.5L1273.4 995.5L1273.4 999.7L1277.6 999.7L1281.7 995.5L1285.9 995.5L1285.9 999.7L1285.9 995.5L1285.9 999.7L1290.0 999.7L1290.0 1003.8L1294.2 1003.8L1298.3 1003.8L1298.3 999.7L1298.3 1003.8L1302.5 1003.8L1302.5 1008.0L1302.5 1003.8L1306.6 1003.8L1306.6 1008.0L1306.6 1003.8L1310.8 1003.8L1314.9 1003.8L1314.9 1008.0L1314.9 1003.8L1319.1 999.7L1319.1 1003.8L1323.2 1003.8L1323.2 1008.0L1323.2 1003.8L1327.4 1003.8L1327.4 1008.0L1327.4 1003.8L1331.5 1003.8L1331.5 1008.0L1331.5 1003.8L1335.7 1008.0L1335.7 1003.8L1339.8 1003.8L1339.8 1008.0L1344.0 1003.8L1348.1 999.7L1352.2 999.7L1352.2 991.4L1356.4 991.4L1356.4 987.2L1360.5 983.1L1364.7 983.1L1368.8 983.1L1368.8 978.9L1373.0 978.9L1373.0 974.8L1373.0 978.9L1377.1 978.9L1377.1 974.8L1381.3 970.6L1381.3 974.8L1381.3 970.6L1385.4 970.6L1389.6 970.6L1389.6 966.5L1389.6 970.6L1393.7 970.6L1393.7 983.1L1397.9 987.2L1397.9 995.5L1402.0 991.4L1402.0 999.7L1406.2 1003.8L1410.3 1003.8L1414.5 1008.0L1414.5 999.7L1414.5 1008.0L1418.6 1008.0L1418.6 1003.8L1422.8 1003.8L1422.8 1008.0L1426.9 1003.8L1426.9 1008.0L1431.1 1008.0L1435.2 1008.0L1439.4 1003.8L1439.4 1014.6Z"/>
<path d="M634.6 1035.6L634.6 1028.7L638.8 1028.7L638.8 1024.6L642.9 1028.7L642.9 1024.6L642.9 1028.7L647.1 1024.6L647.1 1020.4L647.1 1024.6L651.2 1024.6L651.2 1020.4L655.4 1020.4L655.4 1024.6L655.4 1020.4L659.5 1016.3L663.7 1012.1L663.7 1016.3L663.7 1012.1L667.8 1012.1L667.8 1008.0L672.0 1008.0L672.0 1003.8L676.1 999.7L680.3 1003.8L680.3 995.5L684.4 995.5L688.6 991.4L688.6 987.2L692.7 987.2L692.7 983.1L696.9 983.1L696.9 978.9L696.9 983.1L701.0 974.8L701.0 978.9L705.2 970.6L705.2 974.8L705.2 966.5L709.3 970.6L709.3 974.8L709.3 966.5L713.5 966.5L713.5 962.3L717.6 962.3L721.8 958.2L721.8 962.3L725.9 954.0L725.9 949.9L730.0 949.9L730.0 954.0L730.0 949.9L734.2 954.0L734.2 958.2L738.3 949.9L738.3 954.0L742.5 954.0L742.5 949.9L746.6 954.0L750.8 949.9L750.8 954.0L754.9 949.9L754.9 954.0L754.9 949.9L759.1 949.9L763.2 954.0L763.2 958.2L767.4 954.0L771.5 954.0L771.5 958.2L775.7 958.2L775.7 962.3L779.8 962.3L779.8 958.2L779.8 966.5L784.0 962.3L784.0 966.5L784.0 962.3L784.0 966.5L788.1 962.3L788.1 970.6L788.1 966.5L792.3 962.3L792.3 970.6L792.3 966.5L796.4 970.6L796.4 974.8L796.4 970.6L800.6 970.6L800.6 974.8L800.6 970.6L804.7 974.8L808.9 974.8L808.9 970.6L808.9 978.9L808.9 974.8L813.0 974.8L813.0 983.1L817.2 978.9L821.3 974.8L821.3 983.1L825.5 987.2L825.5 978.9L825.5 983.1L829.6 978.9L829.6 983.1L829.6 978.9L833.7 978.9L833.7 983.1L837.9 983.1L842.0 983.1L842.0 978.9L842.0 983.1L846.2 983.1L846.2 978.9L850.3 983.1L850.3 987.2L850.3 983.1L854.5 983.1L858.6 987.2L858.6 983.1L858.6 987.2L862.8 987.2L866.9 987.2L866.9 991.4L866.9 987.2L871.1 987.2L871.1 983.1L875.2 983.1L875.2 974.8L879.4 970.6L879.4 920.9L883.5 908.4L883.5 904.3L883.5 908.4L887.7 896.0L887.7 908.4L891.8 916.7L891.8 929.2L896.0 941.6L896.0 937.4L896.0 954.0L900.1 954.0L900.1 970.6L904.3 978.9L904.3 983.1L908.4 987.2L908.4 991.4L912.6 995.5L912.6 991.4L916.7 991.4L916.7 995.5L920.9 999.7L920.9 995.5L925.0 999.7L925.0 1003.8L929.2 999.7L929.2 1003.8L933.3 999.7L937.4 1003.8L941.6 1003.8L941.6 1008.0L941.6 1003.8L945.7 1008.0L949.9 1008.0L949.9 1003.8L954.0 1008.0L954.0 1003.8L958.2 1003.8L958.2 1008.0L958.2 1003.8L958.2 1008.0L962.3 1008.0L966.5 1008.0L970.6 1008.0L970.6 1003.8L974.8 1003.8L974.8 1008.0L974.8 1003.8L978.9 1008.0L983.1 1008.0L983.1 1003.8L983.1 1008.0L987.2 1008.0L987.2 1003.8L991.4 1003.8L991.4 999.7L991.4 1003.8L995.5 999.7L995.5 995.5L999.7 991.4L999.7 995.5L999.7 983.1L1003.8 987.2L1003.8 759.1L1008.0 750.8L1008.0 730.0L1012.1 725.9L1012.1 701.0L1012.1 717.6L1016.3 721.8L1016.3 746.6L1020.4 796.4L1020.4 792.3L1020.4 800.6L1024.6 825.5L1024.6 879.4L1028.7 929.2L1028.7 962.3L1032.9 974.8L1032.9 991.4L1037.0 1003.8L1037.0 1012.1L1041.1 1012.1L1041.1 1016.3L1045.3 1016.3L1045.3 1020.4L1045.3 1016.3L1049.4 1020.4L1049.4 1016.3L1049.4 1020.4L1053.6 1020.4L1053.6 1016.3L1057.7 1016.3L1057.7 1020.4L1061.9 1016.3L1061.9 1020.4L1061.9 1016.3L1066.0 1016.3L1066.0 1020.4L1066.0 1016.3L1070.2 1020.4L1070.2 1016.3L1074.3 1016.3L1074.3 1020.4L1078.5 1016.3L1082.6 1016.3L1082.6 1020.4L1086.8 1016.3L1086.8 1020.4L1090.9 1020.4L1090.9 1016.3L1090.9 1020.4L1095.1 1016.3L1095.1 995.5L1099.2 983.1L1099.2 974.8L1103.4 970.6L1103.4 974.8L1107.5 978.9L1107.5 974.8L1111.7 978.9L1111.7 974.8L1115.8 974.8L1115.8 978.9L1120.0 974.8L1120.0 970.6L1120.0 978.9L1124.1 974.8L1124.1 970.6L1124.1 978.9L1128.3 987.2L1128.3 995.5L1132.4 995.5L1132.4 1008.0L1136.6 1016.3L1136.6 1020.4L1140.7 1016.3L1144.8 1020.4L1144.8 1016.3L1149.0 1020.4L1149.0 1016.3L1149.0 1020.4L1153.1 1016.3L1157.3 1016.3L1161.4 1012.1L1161.4 1008.0L1165.6 1003.8L1165.6 999.7L1169.7 995.5L1169.7 978.9L1173.9 875.2L1173.9 825.5L1178.0 821.3L1178.0 817.2L1178.0 825.5L1182.2 825.5L1182.2 837.9L1186.3 858.6L1186.3 891.8L1190.5 908.4L1190.5 949.9L1194.6 978.9L1194.6 987.2L1194.6 983.1L1198.8 987.2L1198.8 999.7L1202.9 1008.0L1202.9 1012.1L1207.1 1020.4L1207.1 1016.3L1211.2 1020.4L1215.4 1024.6L1219.5 1024.6L1223.7 1024.6L1223.7 1028.7L1223.7 1024.6L1227.8 1020.4L1227.8 1024.6L1232.0 1024.6L1236.1 1024.6L1240.3 1024.6L1240.3 1028.7L1240.3 1024.6L1244.4 1024.6L1244.4 1020.4L1248.5 1016.3L1248.5 1020.4L1248.5 1016.3L1252.7 1016.3L1256.8 1016.3L1256.8 1020.4L1256.8 1016.3L1261.0 1016.3L1261.0 1012.1L1265.1 1016.3L1265.1 1020.4L1269.3 1020.4L1269.3 1024.6L1273.4 1024.6L1273.4 1020.4L1277.6 1024.6L1281.7 1024.6L1281.7 1028.7L1285.9 1024.6L1290.0 1024.6L1294.2 1028.7L1294.2 1024.6L1294.2 1028.7L1298.3 1024.6L1302.5 1024.6L1302.5 1028.7L1302.5 1020.4L1306.6 1024.6L1310.8 1020.4L1310.8 1024.6L1314.9 1028.7L1314.9 1024.6L1319.1 1024.6L1323.2 1024.6L1323.2 1028.7L1323.2 1024.6L1327.4 1024.6L1327.4 1020.4L1331.5 1020.4L1331.5 1012.1L1335.7 1012.1L1335.7 1008.0L1335.7 1012.1L1339.8 1003.8L1344.0 1003.8L1344.0 1008.0L1348.1 1003.8L1348.1 999.7L1352.2 999.7L1356.4 999.7L1356.4 991.4L1360.5 999.7L1360.5 991.4L1364.7 995.5L1364.7 991.4L1368.8 991.4L1368.8 987.2L1368.8 991.4L1373.0 991.4L1373.0 995.5L1377.1 1003.8L1377.1 1008.0L1381.3 1008.0L1381.3 1016.3L1385.4 1016.3L1385.4 1024.6L1385.4 1020.4L1389.6 1024.6L1393.7 1024.6L1393.7 1028.7L1397.9 1024.6L1397.9 1028.7L1397.9 1024.6L1402.0 1028.7L1402.0 1024.6L1406.2 1028.7L1406.2 1024.6L1410.3 1028.7L1410.3 1024.6L1414.5 1028.7L1414.5 1024.6L1414.5 1028.7L1418.6 1028.7L1418.6 1035.6Z"/>
<path d="M618.1 1056.7L618.1 1049.4L618.1 1045.3L622.2 1045.3L626.3 1045.3L630.5 1049.4L630.5 1041.1L634.6 1045.3L634.6 1041.1L638.8 1041.1L642.9 1041.1L642.9 1037.0L647.1 1037.0L647.1 1028.7L651.2 1032.9L651.2 1028.7L655.4 1028.7L655.4 1024.6L655.4 1028.7L655.4 1024.6L659.5 1024.6L659.5 1016.3L663.7 1020.4L663.7 1016.3L667.8 1012.1L672.0 1012.1L672.0 1008.0L676.1 1008.0L676.1 999.7L680.3 1003.8L680.3 995.5L684.4 999.7L688.6 995.5L688.6 991.4L692.7 991.4L692.7 987.2L696.9 991.4L696.9 983.1L701.0 983.1L705.2 983.1L705.2 978.9L709.3 978.9L713.5 978.9L713.5 974.8L717.6 978.9L717.6 974.8L717.6 978.9L721.8 974.8L721.8 978.9L725.9 974.8L730.0 974.8L734.2 974.8L734.2 978.9L738.3 974.8L738.3 978.9L738.3 974.8L742.5 974.8L742.5 983.1L746.6 978.9L746.6 983.1L746.6 978.9L750.8 983.1L754.9 983.1L754.9 978.9L759.1 983.1L759.1 987.2L763.2 987.2L767.4 991.4L767.4 987.2L767.4 991.4L771.5 987.2L771.5 991.4L775.7 995.5L779.8 995.5L779.8 991.4L784.0 995.5L784.0 999.7L788.1 999.7L788.1 995.5L792.3 1003.8L792.3 995.5L792.3 999.7L796.4 1003.8L796.4 999.7L796.4 1003.8L800.6 1003.8L800.6 999.7L800.6 1003.8L804.7 999.7L804.7 1003.8L808.9 1003.8L813.0 1003.8L817.2 999.7L817.2 1008.0L821.3 1003.8L821.3 1008.0L825.5 1008.0L825.5 1003.8L829.6 1003.8L833.7 1003.8L833.7 1008.0L833.7 1003.8L837.9 1008.0L837.9 1003.8L842.0 1008.0L846.2 1008.0L846.2 1012.1L846.2 1008.0L850.3 1012.1L850.3 1008.0L850.3 1012.1L850.3 1008.0L854.5 1008.0L854.5 1003.8L858.6 1003.8L858.6 983.1L862.8 945.7L862.8 929.2L866.9 925.0L866.9 929.2L871.1 937.4L871.1 954.0L875.2 958.2L875.2 970.6L879.4 974.8L879.4 991.4L883.5 991.4L883.5 1008.0L887.7 1008.0L891.8 1012.1L891.8 1020.4L896.0 1016.3L900.1 1020.4L900.1 1016.3L904.3 1020.4L904.3 1024.6L904.3 1020.4L908.4 1024.6L908.4 1020.4L912.6 1024.6L916.7 1024.6L916.7 1020.4L916.7 1024.6L920.9 1024.6L920.9 1028.7L925.0 1028.7L925.0 1024.6L925.0 1028.7L929.2 1028.7L933.3 1032.9L933.3 1024.6L933.3 1028.7L937.4 1028.7L941.6 1028.7L941.6 1024.6L941.6 1028.7L945.7 1028.7L945.7 1032.9L945.7 1028.7L949.9 1032.9L949.9 1028.7L954.0 1028.7L958.2 1032.9L958.2 1028.7L958.2 1032.9L962.3 1028.7L962.3 1032.9L962.3 1028.7L966.5 1028.7L970.6 1028.7L970.6 1024.6L970.6 1028.7L974.8 1024.6L978.9 1020.4L978.9 1008.0L983.1 1012.1L983.1 995.5L987.2 788.1L987.2 775.7L991.4 767.4L991.4 742.5L995.5 746.6L995.5 763.2L999.7 792.3L999.7 829.6L1003.8 825.5L1003.8 904.3L1008.0 916.7L1008.0 987.2L1012.1 987.2L1012.1 1003.8L1016.3 1016.3L1016.3 1032.9L1020.4 1028.7L1020.4 1037.0L1024.6 1041.1L1024.6 1037.0L1024.6 1041.1L1028.7 1041.1L1028.7 1037.0L1032.9 1041.1L1032.9 1037.0L1032.9 1041.1L1037.0 1041.1L1037.0 1045.3L1041.1 1041.1L1041.1 1037.0L1041.1 1041.1L1045.3 1041.1L1049.4 1037.0L1049.4 1041.1L1053.6 1037.0L1053.6 1041.1L1057.7 1037.0L1057.7 1041.1L1061.9 1037.0L1061.9 1041.1L1066.0 1041.1L1066.0 1037.0L1070.2 1041.1L1070.2 1037.0L1074.3 1037.0L1074.3 1032.9L1078.5 1016.3L1078.5 999.7L1082.6 1003.8L1082.6 999.7L1086.8 995.5L1086.8 999.7L1090.9 995.5L1090.9 999.7L1095.1 999.7L1095.1 995.5L1099.2 999.7L1099.2 995.5L1103.4 995.5L1103.4 999.7L1107.5 999.7L1107.5 1012.1L1111.7 1016.3L1111.7 1032.9L1115.8 1028.7L1115.8 1041.1L1120.0 1041.1L1120.0 1037.0L1120.0 1041.1L1124.1 1037.0L1124.1 1041.1L1124.1 1037.0L1128.3 1037.0L1132.4 1041.1L1132.4 1037.0L1136.6 1041.1L1136.6 1037.0L1140.7 1032.9L1140.7 1028.7L1144.8 1024.6L1144.8 1020.4L1149.0 1012.1L1153.1 970.6L1153.1 850.3L1157.3 850.3L1157.3 846.2L1161.4 850.3L1161.4 858.6L1165.6 866.9L1165.6 908.4L1169.7 916.7L1169.7 958.2L1173.9 978.9L1173.9 1003.8L1178.0 1003.8L1178.0 1024.6L1182.2 1024.6L1182.2 1028.7L1186.3 1032.9L1186.3 1041.1L1190.5 1045.3L1190.5 1041.1L1194.6 1037.0L1194.6 1045.3L1198.8 1049.4L1198.8 1045.3L1198.8 1049.4L1198.8 1045.3L1202.9 1045.3L1202.9 1049.4L1202.9 1045.3L1207.1 1045.3L1211.2 1049.4L1211.2 1045.3L1215.4 1045.3L1219.5 1045.3L1219.5 1049.4L1219.5 1045.3L1223.7 1041.1L1227.8 1041.1L1227.8 1037.0L1232.0 1041.1L1232.0 1037.0L1236.1 1037.0L1236.1 1041.1L1236.1 1037.0L1240.3 1041.1L1240.3 1037.0L1240.3 1041.1L1244.4 1041.1L1244.4 1037.0L1248.5 1041.1L1248.5 1045.3L1252.7 1045.3L1252.7 1049.4L1256.8 1049.4L1256.8 1045.3L1261.0 1045.3L1261.0 1049.4L1265.1 1045.3L1265.1 1049.4L1265.1 1045.3L1269.3 1045.3L1273.4 1049.4L1273.4 1045.3L1277.6 1049.4L1281.7 1049.4L1281.7 1045.3L1285.9 1049.4L1285.9 1045.3L1290.0 1049.4L1290.0 1045.3L1290.0 1049.4L1294.2 1049.4L1294.2 1045.3L1298.3 1049.4L1298.3 1045.3L1302.5 1045.3L1302.5 1049.4L1302.5 1045.3L1306.6 1045.3L1306.6 1041.1L1310.8 1041.1L1314.9 1037.0L1314.9 1032.9L1319.1 1028.7L1319.1 1024.6L1319.1 1028.7L1323.2 1024.6L1327.4 1024.6L1327.4 1020.4L1331.5 1020.4L1331.5 1024.6L1331.5 1020.4L1335.7 1020.4L1339.8 1012.1L1339.8 1020.4L1339.8 1016.3L1344.0 1016.3L1348.1 1016.3L1348.1 1008.0L1352.2 1012.1L1352.2 1008.0L1352.2 1016.3L1352.2 1012.1L1356.4 1020.4L1356.4 1024.6L1360.5 1028.7L1360.5 1037.0L1364.7 1037.0L1364.7 1041.1L1368.8 1049.4L1368.8 1045.3L1373.0 1049.4L1373.0 1045.3L1377.1 1049.4L1377.1 1045.3L1381.3 1045.3L1381.3 1049.4L1385.4 1049.4L1385.4 1045.3L1389.6 1049.4L1389.6 1045.3L1389.6 1049.4L1393.7 1053.6L1393.7 1049.4L1397.9 1049.4L1397.9 1056.7Z"/>
<path d="M597.3 1077.8L597.3 1066.0L597.3 1070.2L601.5 1066.0L601.5 1070.2L605.6 1066.0L605.6 1070.2L605.6 1066.0L609.8 1066.0L613.9 1066.0L613.9 1061.9L613.9 1066.0L618.1 1061.9L618.1 1066.0L618.1 1061.9L622.2 1057.7L626.3 1057.7L626.3 1053.6L626.3 1057.7L630.5 1053.6L634.6 1049.4L634.6 1041.1L638.8 1045.3L638.8 1041.1L642.9 1041.1L642.9 1037.0L647.1 1032.9L647.1 1037.0L651.2 1032.9L651.2 1041.1L651.2 1037.0L655.4 1032.9L655.4 1024.6L659.5 1024.6L659.5 1020.4L663.7 1020.4L663.7 1024.6L667.8 1016.3L667.8 1020.4L667.8 1016.3L672.0 1016.3L672.0 1012.1L676.1 1012.1L676.1 1008.0L676.1 1012.1L680.3 1008.0L680.3 1003.8L680.3 1008.0L684.4 995.5L684.4 1003.8L688.6 999.7L692.7 999.7L696.9 999.7L701.0 999.7L701.0 1008.0L701.0 1003.8L705.2 1003.8L705.2 999.7L709.3 999.7L713.5 999.7L713.5 995.5L713.5 999.7L717.6 999.7L717.6 995.5L717.6 999.7L721.8 1003.8L721.8 999.7L721.8 1003.8L725.9 999.7L725.9 1003.8L730.0 1003.8L734.2 1003.8L734.2 1008.0L738.3 1008.0L738.3 1012.1L742.5 1012.1L742.5 1008.0L742.5 1012.1L746.6 1012.1L750.8 1012.1L750.8 1016.3L750.8 1012.1L754.9 1016.3L754.9 1012.1L754.9 1020.4L759.1 1016.3L759.1 1012.1L759.1 1016.3L763.2 1020.4L763.2 1016.3L763.2 1020.4L767.4 1024.6L767.4 1020.4L767.4 1024.6L771.5 1020.4L771.5 1024.6L775.7 1020.4L775.7 1028.7L779.8 1028.7L779.8 1020.4L779.8 1024.6L784.0 1024.6L784.0 1028.7L784.0 1024.6L788.1 1024.6L788.1 1020.4L788.1 1024.6L792.3 1032.9L792.3 1024.6L792.3 1028.7L796.4 1028.7L796.4 1024.6L796.4 1028.7L800.6 1024.6L800.6 1028.7L804.7 1024.6L804.7 1028.7L804.7 1024.6L808.9 1024.6L808.9 1028.7L813.0 1028.7L817.2 1028.7L817.2 1032.9L817.2 1028.7L821.3 1028.7L821.3 1032.9L825.5 1032.9L825.5 1028.7L825.5 1032.9L829.6 1032.9L829.6 1028.7L829.6 1037.0L833.7 1032.9L833.7 1028.7L837.9 1024.6L837.9 1016.3L842.0 1008.0L842.0 962.3L846.2 954.0L846.2 949.9L850.3 958.2L850.3 978.9L854.5 983.1L854.5 991.4L858.6 995.5L858.6 1008.0L862.8 1008.0L862.8 1024.6L866.9 1024.6L866.9 1032.9L866.9 1028.7L871.1 1032.9L871.1 1037.0L875.2 1037.0L875.2 1041.1L879.4 1041.1L879.4 1045.3L883.5 1041.1L887.7 1045.3L891.8 1045.3L891.8 1041.1L891.8 1045.3L896.0 1045.3L900.1 1045.3L904.3 1049.4L908.4 1049.4L908.4 1045.3L908.4 1049.4L912.6 1053.6L912.6 1049.4L916.7 1049.4L916.7 1053.6L920.9 1049.4L925.0 1053.6L929.2 1049.4L933.3 1049.4L933.3 1053.6L937.4 1053.6L937.4 1049.4L937.4 1053.6L937.4 1049.4L941.6 1049.4L941.6 1053.6L945.7 1049.4L945.7 1053.6L949.9 1049.4L949.9 1045.3L949.9 1049.4L954.0 1045.3L958.2 1037.0L958.2 1045.3L958.2 1032.9L962.3 1032.9L962.3 1020.4L966.5 879.4L966.5 817.2L970.6 800.6L970.6 784.0L974.8 775.7L974.8 784.0L978.9 796.4L978.9 854.5L983.1 866.9L983.1 929.2L987.2 933.3L987.2 1003.8L991.4 1008.0L991.4 1020.4L995.5 1037.0L995.5 1049.4L999.7 1057.7L1003.8 1057.7L1003.8 1061.9L1003.8 1057.7L1003.8 1061.9L1008.0 1057.7L1008.0 1061.9L1008.0 1057.7L1012.1 1061.9L1016.3 1061.9L1020.4 1061.9L1024.6 1061.9L1028.7 1061.9L1032.9 1061.9L1037.0 1057.7L1037.0 1061.9L1041.1 1061.9L1041.1 1057.7L1045.3 1061.9L1045.3 1057.7L1045.3 1061.9L1049.4 1061.9L1053.6 1061.9L1053.6 1057.7L1057.7 1057.7L1057.7 1024.6L1061.9 1020.4L1061.9 1016.3L1066.0 1016.3L1066.0 1020.4L1070.2 1020.4L1070.2 1024.6L1074.3 1024.6L1074.3 1020.4L1078.5 1024.6L1078.5 1016.3L1082.6 1020.4L1086.8 1016.3L1086.8 1032.9L1090.9 1032.9L1090.9 1045.3L1095.1 1049.4L1095.1 1057.7L1099.2 1057.7L1099.2 1061.9L1103.4 1061.9L1103.4 1057.7L1107.5 1057.7L1107.5 1061.9L1111.7 1061.9L1111.7 1057.7L1115.8 1061.9L1115.8 1057.7L1120.0 1057.7L1120.0 1053.6L1124.1 1049.4L1124.1 1041.1L1128.3 1037.0L1128.3 1032.9L1132.4 1028.7L1132.4 887.7L1136.6 875.2L1136.6 866.9L1140.7 866.9L1140.7 883.5L1140.7 875.2L1144.8 887.7L1144.8 916.7L1149.0 933.3L1149.0 966.5L1153.1 978.9L1153.1 1028.7L1153.1 1024.6L1157.3 1028.7L1157.3 1041.1L1161.4 1037.0L1161.4 1053.6L1165.6 1053.6L1165.6 1061.9L1169.7 1061.9L1169.7 1066.0L1169.7 1061.9L1173.9 1066.0L1173.9 1070.2L1173.9 1066.0L1178.0 1066.0L1182.2 1066.0L1182.2 1061.9L1186.3 1070.2L1186.3 1066.0L1190.5 1070.2L1190.5 1066.0L1194.6 1066.0L1198.8 1066.0L1198.8 1061.9L1202.9 1070.2L1202.9 1061.9L1207.1 1061.9L1207.1 1057.7L1207.1 1061.9L1211.2 1057.7L1211.2 1061.9L1215.4 1061.9L1219.5 1061.9L1219.5 1057.7L1223.7 1057.7L1223.7 1061.9L1227.8 1057.7L1227.8 1061.9L1232.0 1061.9L1232.0 1066.0L1236.1 1066.0L1236.1 1070.2L1240.3 1066.0L1240.3 1070.2L1240.3 1066.0L1244.4 1070.2L1244.4 1066.0L1248.5 1070.2L1248.5 1066.0L1252.7 1066.0L1252.7 1070.2L1256.8 1066.0L1256.8 1070.2L1261.0 1066.0L1261.0 1070.2L1265.1 1070.2L1265.1 1066.0L1265.1 1070.2L1265.1 1066.0L1269.3 1070.2L1269.3 1066.0L1269.3 1070.2L1273.4 1070.2L1273.4 1066.0L1277.6 1066.0L1277.6 1070.2L1277.6 1066.0L1281.7 1066.0L1281.7 1070.2L1285.9 1066.0L1285.9 1061.9L1290.0 1061.9L1294.2 1057.7L1294.2 1053.6L1298.3 1049.4L1298.3 1045.3L1302.5 1049.4L1302.5 1045.3L1302.5 1049.4L1306.6 1049.4L1306.6 1041.1L1310.8 1045.3L1310.8 1041.1L1314.9 1041.1L1314.9 1037.0L1314.9 1045.3L1319.1 1045.3L1319.1 1037.0L1323.2 1037.0L1323.2 1032.9L1327.4 1037.0L1327.4 1032.9L1331.5 1028.7L1331.5 1032.9L1335.7 1037.0L1335.7 1045.3L1339.8 1049.4L1339.8 1057.7L1344.0 1057.7L1348.1 1061.9L1348.1 1066.0L1352.2 1070.2L1352.2 1066.0L1352.2 1070.2L1356.4 1066.0L1356.4 1070.2L1360.5 1066.0L1360.5 1070.2L1364.7 1070.2L1364.7 1066.0L1368.8 1066.0L1368.8 1070.2L1373.0 1066.0L1373.0 1070.2L1377.1 1066.0L1377.1 1070.2L1377.1 1077.8Z"/>
<path d="M576.6 1098.8L576.6 1090.9L580.7 1090.9L580.7 1086.8L584.9 1090.9L584.9 1086.8L584.9 1090.9L589.0 1090.9L589.0 1086.8L593.2 1086.8L593.2 1090.9L593.2 1086.8L597.3 1086.8L597.3 1082.6L597.3 1086.8L601.5 1086.8L601.5 1078.5L605.6 1078.5L605.6 1074.3L609.8 1078.5L609.8 1074.3L613.9 1070.2L618.1 1066.0L618.1 1070.2L618.1 1066.0L622.2 1066.0L622.2 1061.9L626.3 1066.0L626.3 1057.7L630.5 1057.7L634.6 1057.7L634.6 1049.4L638.8 1049.4L638.8 1045.3L638.8 1053.6L642.9 1049.4L642.9 1045.3L642.9 1049.4L647.1 1041.1L647.1 1045.3L647.1 1041.1L651.2 1041.1L651.2 1037.0L655.4 1037.0L655.4 1028.7L655.4 1032.9L659.5 1032.9L659.5 1028.7L663.7 1024.6L663.7 1028.7L667.8 1024.6L672.0 1024.6L672.0 1032.9L672.0 1024.6L676.1 1020.4L676.1 1028.7L676.1 1024.6L680.3 1024.6L680.3 1020.4L680.3 1028.7L684.4 1024.6L684.4 1020.4L684.4 1028.7L688.6 1024.6L688.6 1020.4L692.7 1024.6L692.7 1028.7L692.7 1024.6L696.9 1024.6L696.9 1016.3L701.0 1024.6L701.0 1028.7L701.0 1024.6L705.2 1028.7L709.3 1028.7L709.3 1032.9L713.5 1028.7L713.5 1032.9L717.6 1028.7L717.6 1032.9L721.8 1032.9L721.8 1028.7L721.8 1032.9L725.9 1032.9L725.9 1037.0L730.0 1032.9L730.0 1037.0L734.2 1037.0L734.2 1041.1L738.3 1037.0L738.3 1041.1L742.5 1037.0L742.5 1045.3L742.5 1037.0L746.6 1037.0L746.6 1045.3L750.8 1045.3L754.9 1049.4L754.9 1045.3L759.1 1045.3L759.1 1049.4L759.1 1045.3L763.2 1049.4L763.2 1045.3L763.2 1049.4L767.4 1045.3L767.4 1049.4L771.5 1045.3L771.5 1049.4L775.7 1045.3L775.7 1053.6L775.7 1049.4L779.8 1049.4L779.8 1053.6L784.0 1049.4L784.0 1053.6L784.0 1049.4L788.1 1053.6L788.1 1049.4L788.1 1053.6L792.3 1053.6L796.4 1049.4L796.4 1053.6L800.6 1053.6L804.7 1053.6L804.7 1057.7L808.9 1049.4L808.9 1053.6L813.0 1057.7L813.0 1053.6L817.2 1053.6L817.2 1049.4L821.3 1041.1L821.3 999.7L825.5 987.2L825.5 978.9L829.6 978.9L829.6 991.4L833.7 999.7L833.7 1008.0L837.9 1012.1L837.9 1028.7L842.0 1028.7L842.0 1037.0L846.2 1045.3L846.2 1049.4L850.3 1049.4L850.3 1057.7L854.5 1057.7L854.5 1061.9L858.6 1061.9L858.6 1057.7L862.8 1066.0L866.9 1066.0L866.9 1070.2L871.1 1070.2L871.1 1066.0L871.1 1070.2L871.1 1066.0L875.2 1070.2L875.2 1066.0L879.4 1070.2L879.4 1074.3L883.5 1070.2L883.5 1074.3L887.7 1070.2L891.8 1074.3L891.8 1070.2L891.8 1074.3L896.0 1074.3L896.0 1070.2L900.1 1070.2L900.1 1074.3L904.3 1070.2L904.3 1074.3L904.3 1070.2L908.4 1074.3L908.4 1070.2L912.6 1074.3L912.6 1070.2L916.7 1074.3L916.7 1070.2L916.7 1074.3L920.9 1074.3L925.0 1074.3L929.2 1070.2L929.2 1074.3L929.2 1070.2L933.3 1074.3L933.3 1066.0L937.4 1070.2L937.4 1057.7L941.6 1057.7L941.6 1045.3L945.7 1045.3L945.7 837.9L949.9 837.9L949.9 808.9L954.0 808.9L954.0 813.0L958.2 825.5L958.2 887.7L962.3 887.7L962.3 954.0L966.5 958.2L966.5 987.2L970.6 1032.9L970.6 1037.0L974.8 1045.3L974.8 1066.0L978.9 1070.2L978.9 1078.5L978.9 1074.3L983.1 1078.5L987.2 1082.6L987.2 1078.5L991.4 1082.6L995.5 1078.5L995.5 1082.6L999.7 1082.6L1003.8 1082.6L1008.0 1082.6L1008.0 1078.5L1012.1 1082.6L1012.1 1078.5L1016.3 1082.6L1020.4 1082.6L1024.6 1082.6L1028.7 1082.6L1032.9 1082.6L1037.0 1082.6L1037.0 1061.9L1041.1 1053.6L1041.1 1041.1L1045.3 1041.1L1045.3 1037.0L1045.3 1041.1L1049.4 1037.0L1049.4 1045.3L1053.6 1041.1L1053.6 1045.3L1057.7 1045.3L1057.7 1037.0L1057.7 1045.3L1061.9 1041.1L1061.9 1045.3L1061.9 1041.1L1066.0 1041.1L1066.0 1053.6L1070.2 1057.7L1070.2 1061.9L1074.3 1066.0L1074.3 1074.3L1078.5 1078.5L1078.5 1082.6L1082.6 1086.8L1082.6 1078.5L1086.8 1082.6L1086.8 1078.5L1086.8 1082.6L1090.9 1082.6L1090.9 1078.5L1095.1 1078.5L1095.1 1082.6L1099.2 1082.6L1099.2 1078.5L1103.4 1074.3L1103.4 1070.2L1107.5 1066.0L1107.5 1061.9L1111.7 1053.6L1111.7 925.0L1115.8 908.4L1115.8 900.1L1120.0 887.7L1120.0 896.0L1124.1 891.8L1124.1 916.7L1128.3 941.6L1128.3 970.6L1132.4 987.2L1132.4 1045.3L1136.6 1053.6L1136.6 1057.7L1140.7 1061.9L1140.7 1070.2L1140.7 1066.0L1144.8 1074.3L1144.8 1078.5L1149.0 1086.8L1153.1 1086.8L1157.3 1086.8L1157.3 1082.6L1157.3 1086.8L1161.4 1090.9L1165.6 1086.8L1165.6 1090.9L1169.7 1086.8L1173.9 1086.8L1178.0 1086.8L1178.0 1095.1L1178.0 1086.8L1182.2 1086.8L1182.2 1082.6L1182.2 1086.8L1186.3 1086.8L1186.3 1082.6L1190.5 1082.6L1190.5 1078.5L1194.6 1078.5L1194.6 1082.6L1198.8 1078.5L1198.8 1082.6L1202.9 1078.5L1202.9 1082.6L1202.9 1078.5L1207.1 1082.6L1211.2 1086.8L1211.2 1082.6L1211.2 1086.8L1215.4 1086.8L1219.5 1086.8L1219.5 1090.9L1223.7 1090.9L1223.7 1086.8L1227.8 1090.9L1227.8 1086.8L1232.0 1086.8L1236.1 1086.8L1240.3 1090.9L1240.3 1086.8L1240.3 1090.9L1240.3 1086.8L1244.4 1086.8L1248.5 1090.9L1248.5 1086.8L1252.7 1086.8L1256.8 1086.8L1256.8 1090.9L1261.0 1090.9L1261.0 1086.8L1265.1 1086.8L1269.3 1086.8L1269.3 1082.6L1269.3 1086.8L1273.4 1078.5L1277.6 1078.5L1277.6 1070.2L1281.7 1070.2L1281.7 1066.0L1285.9 1070.2L1285.9 1066.0L1290.0 1066.0L1290.0 1061.9L1294.2 1066.0L1294.2 1061.9L1298.3 1061.9L1298.3 1057.7L1302.5 1057.7L1302.5 1066.0L1302.5 1061.9L1306.6 1057.7L1306.6 1053.6L1310.8 1053.6L1314.9 1057.7L1314.9 1061.9L1319.1 1066.0L1319.1 1074.3L1323.2 1074.3L1323.2 1078.5L1327.4 1082.6L1327.4 1090.9L1331.5 1090.9L1331.5 1086.8L1331.5 1090.9L1335.7 1090.9L1335.7 1086.8L1339.8 1090.9L1344.0 1090.9L1348.1 1086.8L1348.1 1090.9L1352.2 1086.8L1352.2 1090.9L1356.4 1086.8L1356.4 1090.9L1356.4 1086.8L1360.5 1090.9L1360.5 1098.8Z"/>
<path d="M560.0 1119.9L560.0 1111.7L560.0 1107.5L564.1 1111.7L564.1 1107.5L568.3 1107.5L568.3 1111.7L568.3 1107.5L568.3 1111.7L572.4 1111.7L572.4 1107.5L572.4 1111.7L576.6 1103.4L576.6 1107.5L580.7 1103.4L584.9 1103.4L584.9 1099.2L589.0 1095.1L593.2 1099.2L593.2 1090.9L597.3 1090.9L597.3 1086.8L601.5 1086.8L605.6 1086.8L605.6 1082.6L609.8 1078.5L609.8 1082.6L609.8 1078.5L613.9 1078.5L613.9 1074.3L618.1 1074.3L618.1 1070.2L622.2 1070.2L622.2 1066.0L626.3 1074.3L626.3 1066.0L630.5 1061.9L630.5 1066.0L630.5 1061.9L634.6 1057.7L634.6 1061.9L634.6 1057.7L638.8 1057.7L638.8 1053.6L638.8 1057.7L642.9 1049.4L642.9 1053.6L647.1 1053.6L647.1 1049.4L651.2 1045.3L651.2 1049.4L651.2 1045.3L655.4 1049.4L655.4 1041.1L655.4 1049.4L659.5 1045.3L659.5 1053.6L663.7 1049.4L663.7 1045.3L667.8 1049.4L667.8 1045.3L672.0 1049.4L676.1 1045.3L676.1 1049.4L676.1 1045.3L676.1 1049.4L680.3 1049.4L680.3 1045.3L680.3 1049.4L684.4 1053.6L684.4 1049.4L684.4 1053.6L688.6 1053.6L688.6 1049.4L688.6 1053.6L692.7 1053.6L692.7 1049.4L696.9 1053.6L696.9 1057.7L701.0 1053.6L701.0 1057.7L701.0 1053.6L705.2 1057.7L709.3 1057.7L713.5 1057.7L713.5 1066.0L717.6 1061.9L717.6 1066.0L721.8 1061.9L721.8 1066.0L725.9 1061.9L725.9 1066.0L730.0 1061.9L730.0 1070.2L734.2 1061.9L734.2 1070.2L738.3 1074.3L738.3 1070.2L738.3 1074.3L742.5 1070.2L746.6 1066.0L746.6 1074.3L746.6 1070.2L750.8 1070.2L754.9 1070.2L754.9 1074.3L759.1 1074.3L759.1 1070.2L759.1 1074.3L763.2 1074.3L767.4 1074.3L771.5 1074.3L771.5 1078.5L775.7 1074.3L775.7 1078.5L779.8 1078.5L779.8 1074.3L779.8 1078.5L784.0 1074.3L784.0 1078.5L788.1 1074.3L792.3 1074.3L792.3 1078.5L796.4 1078.5L796.4 1074.3L800.6 1070.2L800.6 1057.7L800.6 1061.9L804.7 1020.4L804.7 1003.8L808.9 1003.8L808.9 1012.1L813.0 1016.3L813.0 1028.7L817.2 1032.9L817.2 1041.1L821.3 1049.4L821.3 1057.7L825.5 1061.9L825.5 1074.3L829.6 1074.3L829.6 1078.5L833.7 1082.6L833.7 1086.8L837.9 1086.8L842.0 1090.9L842.0 1086.8L846.2 1090.9L846.2 1086.8L850.3 1090.9L850.3 1086.8L850.3 1090.9L854.5 1086.8L854.5 1095.1L858.6 1090.9L862.8 1095.1L862.8 1090.9L866.9 1090.9L871.1 1090.9L871.1 1095.1L871.1 1090.9L875.2 1095.1L879.4 1095.1L883.5 1095.1L883.5 1099.2L887.7 1090.9L891.8 1095.1L891.8 1090.9L896.0 1095.1L900.1 1095.1L900.1 1099.2L904.3 1095.1L908.4 1095.1L908.4 1090.9L908.4 1095.1L912.6 1090.9L912.6 1095.1L912.6 1086.8L916.7 1086.8L916.7 1090.9L916.7 1082.6L920.9 1082.6L920.9 1070.2L925.0 1070.2L925.0 879.4L929.2 866.9L929.2 846.2L933.3 850.3L933.3 833.7L933.3 837.9L937.4 846.2L937.4 842.0L937.4 896.0L941.6 908.4L941.6 945.7L945.7 978.9L945.7 987.2L949.9 1032.9L949.9 1057.7L954.0 1061.9L954.0 1082.6L958.2 1090.9L958.2 1099.2L962.3 1103.4L962.3 1099.2L966.5 1107.5L966.5 1103.4L970.6 1107.5L970.6 1103.4L974.8 1103.4L974.8 1099.2L974.8 1103.4L978.9 1103.4L983.1 1099.2L983.1 1103.4L987.2 1103.4L991.4 1103.4L995.5 1107.5L995.5 1103.4L995.5 1107.5L999.7 1103.4L999.7 1099.2L1003.8 1103.4L1003.8 1107.5L1003.8 1103.4L1003.8 1107.5L1008.0 1103.4L1012.1 1107.5L1012.1 1103.4L1016.3 1103.4L1016.3 1095.1L1020.4 1086.8L1020.4 1066.0L1024.6 1066.0L1028.7 1066.0L1028.7 1061.9L1028.7 1066.0L1032.9 1061.9L1032.9 1066.0L1037.0 1070.2L1037.0 1061.9L1041.1 1057.7L1041.1 1066.0L1045.3 1061.9L1045.3 1066.0L1049.4 1078.5L1049.4 1082.6L1053.6 1082.6L1053.6 1095.1L1057.7 1095.1L1057.7 1103.4L1061.9 1103.4L1066.0 1103.4L1066.0 1107.5L1066.0 1103.4L1070.2 1103.4L1074.3 1103.4L1078.5 1103.4L1078.5 1099.2L1082.6 1099.2L1082.6 1095.1L1086.8 1086.8L1086.8 1082.6L1090.9 1078.5L1090.9 978.9L1095.1 937.4L1095.1 920.9L1099.2 916.7L1099.2 920.9L1103.4 916.7L1103.4 929.2L1107.5 945.7L1107.5 987.2L1111.7 995.5L1111.7 1053.6L1115.8 1066.0L1115.8 1074.3L1120.0 1082.6L1120.0 1086.8L1124.1 1090.9L1124.1 1095.1L1128.3 1099.2L1128.3 1107.5L1132.4 1107.5L1136.6 1111.7L1136.6 1107.5L1140.7 1111.7L1140.7 1107.5L1144.8 1107.5L1144.8 1111.7L1149.0 1107.5L1153.1 1111.7L1153.1 1107.5L1157.3 1107.5L1161.4 1111.7L1161.4 1107.5L1165.6 1107.5L1165.6 1103.4L1169.7 1103.4L1173.9 1103.4L1173.9 1099.2L1173.9 1103.4L1178.0 1103.4L1178.0 1099.2L1178.0 1103.4L1182.2 1103.4L1182.2 1099.2L1182.2 1103.4L1186.3 1103.4L1186.3 1099.2L1190.5 1103.4L1190.5 1107.5L1194.6 1107.5L1194.6 1111.7L1198.8 1107.5L1198.8 1111.7L1202.9 1111.7L1202.9 1107.5L1207.1 1111.7L1207.1 1107.5L1211.2 1111.7L1211.2 1107.5L1211.2 1111.7L1215.4 1111.7L1219.5 1111.7L1219.5 1107.5L1223.7 1111.7L1227.8 1111.7L1227.8 1107.5L1227.8 1111.7L1232.0 1107.5L1232.0 1111.7L1232.0 1107.5L1236.1 1107.5L1236.1 1111.7L1240.3 1111.7L1240.3 1107.5L1240.3 1111.7L1240.3 1107.5L1244.4 1111.7L1244.4 1107.5L1248.5 1107.5L1252.7 1103.4L1252.7 1099.2L1256.8 1099.2L1256.8 1095.1L1261.0 1095.1L1261.0 1090.9L1265.1 1090.9L1265.1 1086.8L1269.3 1090.9L1269.3 1082.6L1273.4 1086.8L1273.4 1082.6L1277.6 1082.6L1281.7 1082.6L1285.9 1078.5L1285.9 1082.6L1285.9 1078.5L1290.0 1074.3L1290.0 1070.2L1294.2 1074.3L1294.2 1078.5L1298.3 1082.6L1298.3 1090.9L1302.5 1095.1L1306.6 1099.2L1306.6 1111.7L1310.8 1107.5L1310.8 1111.7L1314.9 1111.7L1314.9 1107.5L1319.1 1107.5L1319.1 1111.7L1323.2 1111.7L1327.4 1111.7L1331.5 1107.5L1331.5 1111.7L1335.7 1107.5L1335.7 1115.8L1339.8 1111.7L1339.8 1119.9Z"/>
<path d="M539.2 1141.0L539.2 1132.4L539.2 1128.3L543.4 1132.4L547.5 1132.4L547.5 1128.3L547.5 1132.4L551.7 1132.4L551.7 1128.3L551.7 1132.4L555.8 1132.4L555.8 1128.3L560.0 1128.3L560.0 1132.4L560.0 1124.1L564.1 1128.3L564.1 1124.1L568.3 1120.0L568.3 1115.8L572.4 1115.8L572.4 1111.7L576.6 1115.8L576.6 1111.7L580.7 1111.7L584.9 1107.5L584.9 1103.4L589.0 1107.5L589.0 1103.4L589.0 1107.5L589.0 1103.4L593.2 1099.2L597.3 1099.2L597.3 1095.1L601.5 1099.2L601.5 1090.9L605.6 1095.1L605.6 1086.8L605.6 1090.9L609.8 1086.8L609.8 1090.9L609.8 1086.8L613.9 1082.6L618.1 1082.6L618.1 1078.5L618.1 1082.6L622.2 1078.5L626.3 1070.2L626.3 1078.5L626.3 1074.3L630.5 1078.5L630.5 1074.3L634.6 1066.0L634.6 1070.2L638.8 1074.3L638.8 1070.2L642.9 1070.2L647.1 1074.3L647.1 1070.2L651.2 1070.2L651.2 1074.3L655.4 1074.3L655.4 1070.2L659.5 1070.2L659.5 1074.3L663.7 1074.3L663.7 1078.5L663.7 1074.3L667.8 1074.3L667.8 1078.5L667.8 1074.3L672.0 1078.5L676.1 1078.5L676.1 1070.2L676.1 1082.6L676.1 1078.5L680.3 1078.5L680.3 1082.6L684.4 1086.8L684.4 1078.5L684.4 1082.6L688.6 1082.6L688.6 1086.8L692.7 1082.6L696.9 1086.8L696.9 1082.6L696.9 1086.8L701.0 1086.8L705.2 1086.8L709.3 1090.9L709.3 1086.8L709.3 1090.9L713.5 1090.9L717.6 1095.1L717.6 1090.9L717.6 1095.1L721.8 1095.1L721.8 1090.9L725.9 1095.1L725.9 1090.9L730.0 1099.2L730.0 1095.1L734.2 1090.9L734.2 1095.1L734.2 1090.9L738.3 1095.1L742.5 1095.1L742.5 1099.2L742.5 1095.1L746.6 1099.2L746.6 1095.1L750.8 1099.2L754.9 1099.2L759.1 1099.2L763.2 1099.2L763.2 1095.1L767.4 1103.4L767.4 1099.2L771.5 1099.2L775.7 1099.2L779.8 1095.1L779.8 1082.6L784.0 1074.3L784.0 1032.9L788.1 1028.7L792.3 1041.1L792.3 1045.3L796.4 1053.6L796.4 1061.9L800.6 1066.0L800.6 1078.5L804.7 1082.6L804.7 1086.8L808.9 1095.1L808.9 1103.4L813.0 1103.4L817.2 1103.4L817.2 1111.7L821.3 1107.5L825.5 1107.5L825.5 1111.7L829.6 1107.5L829.6 1111.7L829.6 1107.5L833.7 1115.8L833.7 1111.7L837.9 1111.7L837.9 1115.8L842.0 1115.8L842.0 1111.7L846.2 1115.8L846.2 1111.7L850.3 1111.7L850.3 1115.8L854.5 1115.8L854.5 1111.7L858.6 1115.8L862.8 1115.8L866.9 1115.8L871.1 1115.8L871.1 1120.0L875.2 1115.8L879.4 1115.8L883.5 1115.8L883.5 1120.0L883.5 1115.8L887.7 1115.8L891.8 1111.7L891.8 1115.8L891.8 1111.7L896.0 1107.5L896.0 1111.7L896.0 1107.5L896.0 1111.7L900.1 1103.4L900.1 1099.2L904.3 1095.1L904.3 1032.9L908.4 904.3L908.4 883.5L912.6 875.2L912.6 866.9L912.6 871.1L916.7 871.1L916.7 920.9L920.9 933.3L920.9 941.6L925.0 995.5L925.0 1003.8L929.2 1008.0L929.2 1074.3L933.3 1082.6L933.3 1099.2L937.4 1107.5L937.4 1120.0L941.6 1120.0L941.6 1124.1L945.7 1124.1L949.9 1128.3L949.9 1124.1L949.9 1128.3L954.0 1128.3L954.0 1120.0L958.2 1128.3L958.2 1124.1L962.3 1124.1L962.3 1128.3L966.5 1124.1L970.6 1124.1L970.6 1128.3L974.8 1124.1L978.9 1124.1L978.9 1128.3L978.9 1124.1L983.1 1120.0L983.1 1124.1L987.2 1128.3L991.4 1124.1L991.4 1128.3L995.5 1124.1L995.5 1120.0L999.7 1120.0L999.7 1090.9L1003.8 1090.9L1003.8 1086.8L1008.0 1086.8L1008.0 1090.9L1008.0 1086.8L1012.1 1082.6L1012.1 1090.9L1016.3 1090.9L1016.3 1086.8L1020.4 1086.8L1024.6 1082.6L1024.6 1086.8L1024.6 1082.6L1028.7 1090.9L1028.7 1103.4L1032.9 1107.5L1032.9 1115.8L1037.0 1115.8L1037.0 1120.0L1041.1 1128.3L1041.1 1124.1L1045.3 1128.3L1045.3 1124.1L1049.4 1128.3L1049.4 1124.1L1053.6 1120.0L1053.6 1124.1L1057.7 1120.0L1057.7 1124.1L1057.7 1120.0L1061.9 1124.1L1061.9 1115.8L1066.0 1115.8L1066.0 1103.4L1070.2 1099.2L1070.2 1095.1L1074.3 999.7L1074.3 949.9L1078.5 949.9L1078.5 937.4L1082.6 941.6L1082.6 937.4L1082.6 941.6L1086.8 962.3L1086.8 999.7L1090.9 1012.1L1090.9 1061.9L1095.1 1082.6L1095.1 1095.1L1099.2 1099.2L1099.2 1107.5L1103.4 1111.7L1103.4 1115.8L1107.5 1115.8L1107.5 1124.1L1111.7 1124.1L1111.7 1132.4L1115.8 1128.3L1115.8 1132.4L1120.0 1132.4L1124.1 1132.4L1124.1 1128.3L1124.1 1132.4L1128.3 1132.4L1132.4 1128.3L1132.4 1136.6L1132.4 1132.4L1136.6 1132.4L1136.6 1128.3L1136.6 1132.4L1140.7 1128.3L1144.8 1128.3L1149.0 1124.1L1153.1 1124.1L1153.1 1128.3L1153.1 1124.1L1157.3 1124.1L1161.4 1124.1L1165.6 1128.3L1165.6 1124.1L1169.7 1124.1L1169.7 1128.3L1173.9 1128.3L1178.0 1128.3L1178.0 1132.4L1182.2 1128.3L1182.2 1132.4L1182.2 1128.3L1186.3 1128.3L1186.3 1136.6L1190.5 1132.4L1190.5 1128.3L1190.5 1132.4L1194.6 1132.4L1194.6 1128.3L1198.8 1132.4L1202.9 1132.4L1202.9 1128.3L1202.9 1132.4L1207.1 1128.3L1207.1 1132.4L1207.1 1128.3L1211.2 1132.4L1211.2 1128.3L1211.2 1132.4L1215.4 1128.3L1215.4 1132.4L1219.5 1132.4L1223.7 1132.4L1227.8 1128.3L1227.8 1132.4L1227.8 1124.1L1232.0 1124.1L1232.0 1120.0L1232.0 1124.1L1236.1 1124.1L1236.1 1120.0L1240.3 1115.8L1240.3 1111.7L1244.4 1111.7L1244.4 1107.5L1248.5 1111.7L1248.5 1107.5L1248.5 1111.7L1252.7 1107.5L1256.8 1103.4L1256.8 1107.5L1256.8 1103.4L1261.0 1103.4L1261.0 1099.2L1265.1 1103.4L1265.1 1099.2L1265.1 1103.4L1269.3 1099.2L1269.3 1095.1L1273.4 1095.1L1273.4 1099.2L1277.6 1103.4L1277.6 1107.5L1281.7 1111.7L1281.7 1120.0L1285.9 1120.0L1285.9 1128.3L1290.0 1132.4L1294.2 1136.6L1294.2 1132.4L1298.3 1132.4L1302.5 1132.4L1306.6 1132.4L1310.8 1132.4L1314.9 1132.4L1319.1 1132.4L1319.1 1136.6L1319.1 1132.4L1319.1 1141.0Z"/>
<path d="M518.5 1162.0L518.5 1153.1L522.6 1153.1L522.6 1149.0L522.6 1153.1L526.8 1153.1L530.9 1153.1L530.9 1149.0L535.1 1153.1L535.1 1149.0L539.2 1149.0L539.2 1144.8L543.4 1149.0L543.4 1140.7L547.5 1149.0L547.5 1140.7L551.7 1140.7L555.8 1136.6L560.0 1136.6L560.0 1132.4L564.1 1132.4L564.1 1128.3L568.3 1132.4L568.3 1124.1L572.4 1128.3L572.4 1124.1L576.6 1120.0L576.6 1115.8L580.7 1120.0L580.7 1115.8L584.9 1115.8L584.9 1111.7L589.0 1111.7L589.0 1107.5L589.0 1111.7L593.2 1107.5L593.2 1111.7L593.2 1107.5L597.3 1103.4L597.3 1107.5L597.3 1103.4L601.5 1107.5L601.5 1099.2L605.6 1099.2L609.8 1095.1L609.8 1099.2L613.9 1095.1L613.9 1099.2L618.1 1095.1L622.2 1099.2L622.2 1095.1L626.3 1095.1L626.3 1090.9L630.5 1095.1L630.5 1099.2L634.6 1099.2L634.6 1095.1L634.6 1099.2L638.8 1095.1L642.9 1095.1L647.1 1095.1L647.1 1103.4L647.1 1095.1L651.2 1103.4L651.2 1095.1L655.4 1099.2L655.4 1103.4L655.4 1099.2L659.5 1103.4L663.7 1107.5L663.7 1103.4L663.7 1107.5L667.8 1107.5L667.8 1103.4L667.8 1107.5L672.0 1107.5L676.1 1107.5L676.1 1103.4L680.3 1111.7L684.4 1111.7L684.4 1115.8L688.6 1111.7L692.7 1115.8L692.7 1111.7L692.7 1115.8L696.9 1111.7L696.9 1120.0L696.9 1115.8L701.0 1120.0L701.0 1115.8L701.0 1120.0L705.2 1115.8L709.3 1120.0L709.3 1115.8L713.5 1120.0L713.5 1115.8L713.5 1120.0L717.6 1124.1L717.6 1115.8L721.8 1115.8L721.8 1120.0L725.9 1120.0L725.9 1115.8L730.0 1120.0L734.2 1120.0L738.3 1120.0L738.3 1124.1L742.5 1120.0L742.5 1128.3L742.5 1120.0L746.6 1128.3L746.6 1120.0L750.8 1120.0L750.8 1124.1L754.9 1124.1L759.1 1120.0L759.1 1111.7L763.2 1111.7L763.2 1066.0L767.4 1053.6L767.4 1049.4L771.5 1057.7L771.5 1061.9L775.7 1074.3L775.7 1078.5L779.8 1086.8L779.8 1095.1L784.0 1099.2L784.0 1115.8L788.1 1115.8L788.1 1124.1L792.3 1120.0L792.3 1124.1L796.4 1128.3L800.6 1132.4L800.6 1128.3L804.7 1132.4L808.9 1132.4L808.9 1136.6L808.9 1132.4L813.0 1132.4L813.0 1136.6L813.0 1128.3L817.2 1136.6L821.3 1132.4L821.3 1136.6L821.3 1132.4L825.5 1136.6L829.6 1136.6L829.6 1140.7L829.6 1136.6L833.7 1140.7L833.7 1136.6L837.9 1140.7L837.9 1136.6L842.0 1140.7L842.0 1136.6L846.2 1140.7L846.2 1136.6L850.3 1136.6L850.3 1140.7L854.5 1140.7L854.5 1136.6L858.6 1136.6L858.6 1140.7L862.8 1140.7L862.8 1136.6L866.9 1140.7L866.9 1136.6L871.1 1136.6L871.1 1132.4L875.2 1132.4L875.2 1128.3L879.4 1128.3L879.4 1124.1L883.5 1120.0L883.5 1111.7L887.7 937.4L887.7 920.9L891.8 908.4L891.8 900.1L896.0 896.0L896.0 916.7L900.1 962.3L900.1 970.6L904.3 970.6L904.3 1032.9L908.4 1032.9L908.4 1095.1L912.6 1099.2L912.6 1115.8L916.7 1124.1L916.7 1136.6L920.9 1140.7L920.9 1144.8L925.0 1144.8L929.2 1144.8L929.2 1149.0L933.3 1144.8L933.3 1149.0L933.3 1144.8L937.4 1144.8L937.4 1149.0L937.4 1144.8L941.6 1144.8L941.6 1149.0L945.7 1144.8L949.9 1144.8L949.9 1149.0L949.9 1144.8L954.0 1149.0L954.0 1144.8L958.2 1144.8L958.2 1149.0L958.2 1144.8L958.2 1149.0L962.3 1144.8L962.3 1149.0L966.5 1144.8L970.6 1149.0L970.6 1144.8L974.8 1149.0L974.8 1144.8L978.9 1144.8L978.9 1120.0L983.1 1111.7L983.1 1107.5L983.1 1111.7L987.2 1107.5L987.2 1111.7L991.4 1107.5L991.4 1111.7L995.5 1111.7L995.5 1107.5L999.7 1107.5L999.7 1111.7L1003.8 1111.7L1003.8 1107.5L1008.0 1111.7L1008.0 1115.8L1012.1 1124.1L1012.1 1132.4L1016.3 1132.4L1016.3 1140.7L1020.4 1149.0L1020.4 1144.8L1020.4 1149.0L1024.6 1144.8L1024.6 1149.0L1024.6 1144.8L1028.7 1149.0L1028.7 1144.8L1032.9 1149.0L1032.9 1144.8L1032.9 1149.0L1037.0 1144.8L1037.0 1149.0L1041.1 1149.0L1041.1 1136.6L1045.3 1140.7L1045.3 1128.3L1049.4 1124.1L1049.4 1115.8L1053.6 1111.7L1053.6 974.8L1057.7 974.8L1057.7 966.5L1061.9 970.6L1061.9 966.5L1066.0 974.8L1066.0 1020.4L1070.2 1032.9L1070.2 1066.0L1074.3 1082.6L1074.3 1115.8L1078.5 1111.7L1078.5 1124.1L1082.6 1128.3L1082.6 1136.6L1086.8 1132.4L1086.8 1144.8L1090.9 1144.8L1090.9 1149.0L1095.1 1149.0L1095.1 1153.1L1099.2 1153.1L1103.4 1153.1L1103.4 1149.0L1103.4 1153.1L1107.5 1153.1L1107.5 1149.0L1107.5 1153.1L1111.7 1153.1L1115.8 1149.0L1115.8 1153.1L1115.8 1149.0L1120.0 1153.1L1124.1 1153.1L1124.1 1149.0L1128.3 1149.0L1128.3 1140.7L1132.4 1140.7L1132.4 1149.0L1136.6 1144.8L1140.7 1144.8L1140.7 1149.0L1140.7 1140.7L1144.8 1144.8L1149.0 1149.0L1149.0 1144.8L1153.1 1149.0L1153.1 1153.1L1157.3 1149.0L1157.3 1153.1L1161.4 1153.1L1161.4 1149.0L1165.6 1153.1L1169.7 1149.0L1169.7 1153.1L1169.7 1149.0L1173.9 1153.1L1178.0 1149.0L1178.0 1153.1L1178.0 1149.0L1178.0 1153.1L1182.2 1153.1L1182.2 1149.0L1186.3 1149.0L1186.3 1153.1L1190.5 1149.0L1190.5 1153.1L1194.6 1153.1L1198.8 1153.1L1202.9 1153.1L1207.1 1153.1L1207.1 1149.0L1211.2 1149.0L1211.2 1144.8L1215.4 1144.8L1215.4 1140.7L1219.5 1140.7L1219.5 1132.4L1223.7 1132.4L1223.7 1128.3L1227.8 1128.3L1227.8 1132.4L1227.8 1124.1L1232.0 1132.4L1232.0 1128.3L1236.1 1124.1L1240.3 1124.1L1240.3 1120.0L1244.4 1124.1L1244.4 1128.3L1244.4 1120.0L1248.5 1124.1L1248.5 1120.0L1252.7 1120.0L1256.8 1120.0L1256.8 1128.3L1256.8 1124.1L1261.0 1128.3L1261.0 1136.6L1265.1 1140.7L1265.1 1144.8L1269.3 1149.0L1269.3 1153.1L1273.4 1149.0L1273.4 1153.1L1277.6 1157.3L1277.6 1153.1L1277.6 1157.3L1281.7 1153.1L1285.9 1153.1L1285.9 1149.0L1285.9 1157.3L1290.0 1153.1L1290.0 1157.3L1294.2 1153.1L1294.2 1149.0L1298.3 1153.1L1302.5 1153.1L1302.5 1162.0Z"/>
<path d="M501.9 1183.1L501.9 1178.0L501.9 1169.7L501.9 1173.9L506.1 1169.7L506.1 1173.9L506.1 1169.7L510.2 1173.9L510.2 1169.7L514.4 1169.7L514.4 1173.9L514.4 1169.7L518.5 1173.9L518.5 1169.7L522.6 1165.6L522.6 1169.7L522.6 1165.6L526.8 1165.6L526.8 1169.7L530.9 1161.4L535.1 1161.4L535.1 1157.3L539.2 1157.3L543.4 1153.1L547.5 1153.1L547.5 1149.0L551.7 1144.8L551.7 1149.0L551.7 1140.7L555.8 1149.0L555.8 1140.7L560.0 1140.7L560.0 1144.8L560.0 1140.7L564.1 1136.6L564.1 1140.7L568.3 1136.6L568.3 1132.4L572.4 1136.6L572.4 1128.3L576.6 1132.4L576.6 1128.3L580.7 1128.3L580.7 1124.1L580.7 1128.3L584.9 1124.1L584.9 1128.3L589.0 1124.1L589.0 1120.0L589.0 1124.1L593.2 1120.0L593.2 1115.8L593.2 1120.0L597.3 1120.0L597.3 1115.8L601.5 1120.0L601.5 1115.8L605.6 1115.8L605.6 1120.0L609.8 1120.0L609.8 1115.8L609.8 1120.0L613.9 1120.0L618.1 1120.0L618.1 1124.1L622.2 1120.0L626.3 1120.0L626.3 1124.1L630.5 1128.3L630.5 1120.0L630.5 1124.1L634.6 1124.1L634.6 1128.3L634.6 1124.1L634.6 1128.3L638.8 1124.1L642.9 1124.1L642.9 1128.3L647.1 1124.1L647.1 1128.3L651.2 1128.3L651.2 1132.4L655.4 1128.3L655.4 1132.4L655.4 1128.3L659.5 1132.4L659.5 1128.3L659.5 1132.4L663.7 1132.4L667.8 1136.6L667.8 1132.4L667.8 1136.6L672.0 1136.6L672.0 1140.7L676.1 1136.6L676.1 1140.7L676.1 1136.6L680.3 1136.6L680.3 1140.7L684.4 1136.6L684.4 1140.7L684.4 1136.6L688.6 1140.7L688.6 1136.6L688.6 1140.7L692.7 1140.7L692.7 1136.6L692.7 1140.7L696.9 1136.6L696.9 1140.7L701.0 1140.7L705.2 1140.7L705.2 1144.8L709.3 1140.7L709.3 1144.8L713.5 1144.8L713.5 1140.7L713.5 1144.8L717.6 1140.7L717.6 1144.8L721.8 1144.8L725.9 1144.8L725.9 1140.7L730.0 1149.0L730.0 1144.8L734.2 1149.0L734.2 1140.7L734.2 1149.0L738.3 1140.7L738.3 1144.8L738.3 1140.7L742.5 1132.4L742.5 1136.6L742.5 1090.9L746.6 1086.8L746.6 1078.5L750.8 1082.6L754.9 1090.9L754.9 1099.2L759.1 1099.2L759.1 1111.7L763.2 1120.0L763.2 1132.4L767.4 1140.7L767.4 1144.8L771.5 1144.8L771.5 1149.0L775.7 1149.0L779.8 1153.1L779.8 1149.0L784.0 1153.1L784.0 1157.3L784.0 1153.1L788.1 1157.3L788.1 1153.1L788.1 1157.3L792.3 1153.1L796.4 1157.3L796.4 1153.1L796.4 1157.3L800.6 1157.3L804.7 1157.3L804.7 1161.4L804.7 1157.3L808.9 1157.3L808.9 1161.4L808.9 1153.1L813.0 1157.3L813.0 1161.4L813.0 1157.3L817.2 1161.4L821.3 1161.4L821.3 1157.3L825.5 1161.4L829.6 1161.4L833.7 1161.4L837.9 1161.4L842.0 1161.4L846.2 1161.4L846.2 1157.3L850.3 1157.3L854.5 1157.3L854.5 1149.0L858.6 1149.0L862.8 1144.8L862.8 1136.6L866.9 1132.4L866.9 954.0L871.1 945.7L871.1 929.2L875.2 916.7L875.2 937.4L879.4 945.7L879.4 991.4L883.5 999.7L883.5 1053.6L887.7 1057.7L887.7 1095.1L891.8 1120.0L891.8 1132.4L896.0 1136.6L896.0 1161.4L900.1 1161.4L900.1 1165.6L904.3 1165.6L904.3 1169.7L908.4 1169.7L908.4 1165.6L908.4 1169.7L912.6 1169.7L912.6 1165.6L916.7 1165.6L916.7 1169.7L916.7 1161.4L920.9 1169.7L925.0 1165.6L925.0 1169.7L925.0 1165.6L929.2 1169.7L929.2 1165.6L929.2 1169.7L933.3 1169.7L933.3 1173.9L937.4 1165.6L937.4 1169.7L937.4 1165.6L941.6 1169.7L941.6 1165.6L941.6 1169.7L945.7 1165.6L945.7 1169.7L949.9 1165.6L949.9 1169.7L954.0 1169.7L954.0 1165.6L954.0 1169.7L958.2 1165.6L958.2 1153.1L962.3 1136.6L962.3 1132.4L966.5 1132.4L970.6 1132.4L974.8 1132.4L978.9 1132.4L978.9 1136.6L978.9 1132.4L983.1 1132.4L983.1 1128.3L987.2 1128.3L987.2 1132.4L991.4 1136.6L991.4 1149.0L995.5 1149.0L995.5 1157.3L999.7 1161.4L999.7 1169.7L1003.8 1169.7L1003.8 1165.6L1003.8 1169.7L1003.8 1165.6L1008.0 1165.6L1008.0 1169.7L1012.1 1165.6L1016.3 1165.6L1020.4 1165.6L1020.4 1161.4L1024.6 1161.4L1024.6 1157.3L1024.6 1161.4L1024.6 1153.1L1028.7 1149.0L1028.7 1144.8L1032.9 1140.7L1032.9 1028.7L1037.0 999.7L1037.0 995.5L1041.1 987.2L1045.3 1003.8L1045.3 999.7L1045.3 1028.7L1049.4 1045.3L1049.4 1070.2L1053.6 1090.9L1053.6 1132.4L1057.7 1132.4L1057.7 1140.7L1061.9 1149.0L1061.9 1157.3L1066.0 1157.3L1066.0 1169.7L1070.2 1165.6L1070.2 1169.7L1074.3 1169.7L1074.3 1173.9L1074.3 1169.7L1078.5 1169.7L1078.5 1173.9L1082.6 1173.9L1086.8 1173.9L1090.9 1178.0L1090.9 1173.9L1095.1 1169.7L1095.1 1173.9L1099.2 1173.9L1103.4 1169.7L1103.4 1173.9L1103.4 1169.7L1107.5 1169.7L1107.5 1173.9L1107.5 1165.6L1111.7 1165.6L1111.7 1169.7L1111.7 1165.6L1115.8 1165.6L1115.8 1169.7L1115.8 1165.6L1120.0 1165.6L1120.0 1169.7L1124.1 1165.6L1128.3 1169.7L1128.3 1161.4L1128.3 1165.6L1132.4 1165.6L1132.4 1173.9L1136.6 1173.9L1136.6 1169.7L1140.7 1173.9L1144.8 1169.7L1144.8 1173.9L1149.0 1173.9L1153.1 1173.9L1157.3 1173.9L1161.4 1173.9L1165.6 1173.9L1165.6 1169.7L1169.7 1178.0L1169.7 1173.9L1173.9 1173.9L1178.0 1169.7L1178.0 1173.9L1182.2 1173.9L1182.2 1169.7L1186.3 1173.9L1186.3 1169.7L1190.5 1169.7L1190.5 1165.6L1194.6 1169.7L1194.6 1165.6L1198.8 1161.4L1198.8 1153.1L1202.9 1153.1L1207.1 1153.1L1207.1 1149.0L1211.2 1153.1L1211.2 1144.8L1215.4 1149.0L1219.5 1144.8L1219.5 1149.0L1219.5 1140.7L1223.7 1140.7L1223.7 1144.8L1223.7 1140.7L1227.8 1140.7L1227.8 1136.6L1232.0 1140.7L1232.0 1136.6L1232.0 1140.7L1236.1 1140.7L1240.3 1144.8L1240.3 1157.3L1240.3 1153.1L1244.4 1157.3L1244.4 1165.6L1248.5 1165.6L1248.5 1173.9L1252.7 1169.7L1252.7 1173.9L1256.8 1178.0L1256.8 1173.9L1261.0 1178.0L1261.0 1173.9L1265.1 1173.9L1265.1 1178.0L1265.1 1173.9L1269.3 1173.9L1273.4 1173.9L1273.4 1178.0L1273.4 1173.9L1277.6 1178.0L1281.7 1173.9L1281.7 1178.0L1281.7 1183.1Z"/>
<path d="M481.2 1204.2L481.2 1198.8L481.2 1194.6L485.3 1190.5L485.3 1194.6L489.5 1194.6L493.6 1194.6L497.8 1194.6L497.8 1190.5L501.9 1190.5L501.9 1186.3L506.1 1190.5L506.1 1186.3L506.1 1190.5L510.2 1182.2L514.4 1182.2L514.4 1178.0L518.5 1178.0L518.5 1182.2L522.6 1178.0L522.6 1173.9L526.8 1173.9L530.9 1173.9L530.9 1169.7L530.9 1173.9L535.1 1169.7L539.2 1165.6L543.4 1161.4L547.5 1157.3L547.5 1161.4L547.5 1157.3L551.7 1157.3L551.7 1153.1L555.8 1153.1L560.0 1153.1L560.0 1149.0L564.1 1149.0L568.3 1144.8L572.4 1144.8L576.6 1144.8L580.7 1149.0L580.7 1140.7L584.9 1144.8L589.0 1144.8L593.2 1149.0L593.2 1144.8L597.3 1149.0L597.3 1140.7L597.3 1144.8L601.5 1144.8L605.6 1149.0L605.6 1144.8L609.8 1140.7L609.8 1149.0L613.9 1149.0L618.1 1153.1L618.1 1144.8L618.1 1149.0L622.2 1153.1L626.3 1149.0L626.3 1153.1L630.5 1157.3L630.5 1153.1L634.6 1153.1L638.8 1157.3L638.8 1153.1L638.8 1157.3L642.9 1153.1L642.9 1157.3L647.1 1157.3L647.1 1161.4L651.2 1157.3L651.2 1161.4L655.4 1161.4L655.4 1165.6L659.5 1165.6L659.5 1161.4L663.7 1161.4L667.8 1161.4L667.8 1165.6L672.0 1161.4L672.0 1157.3L676.1 1161.4L676.1 1165.6L680.3 1161.4L680.3 1165.6L684.4 1161.4L684.4 1169.7L684.4 1165.6L688.6 1169.7L688.6 1165.6L692.7 1165.6L696.9 1165.6L696.9 1169.7L696.9 1165.6L696.9 1169.7L701.0 1165.6L701.0 1169.7L701.0 1165.6L705.2 1169.7L705.2 1165.6L709.3 1165.6L709.3 1169.7L709.3 1165.6L713.5 1173.9L713.5 1165.6L713.5 1169.7L717.6 1169.7L717.6 1165.6L721.8 1157.3L721.8 1161.4L721.8 1149.0L725.9 1120.0L725.9 1103.4L730.0 1103.4L730.0 1107.5L734.2 1111.7L734.2 1124.1L738.3 1128.3L738.3 1132.4L738.3 1128.3L742.5 1132.4L742.5 1149.0L746.6 1153.1L746.6 1165.6L750.8 1165.6L750.8 1161.4L754.9 1169.7L754.9 1173.9L754.9 1169.7L759.1 1173.9L759.1 1169.7L763.2 1173.9L763.2 1178.0L767.4 1178.0L771.5 1178.0L771.5 1182.2L771.5 1178.0L775.7 1178.0L779.8 1178.0L779.8 1182.2L779.8 1178.0L784.0 1178.0L788.1 1178.0L792.3 1182.2L796.4 1182.2L800.6 1182.2L800.6 1186.3L804.7 1178.0L804.7 1182.2L808.9 1182.2L808.9 1186.3L813.0 1182.2L813.0 1178.0L817.2 1182.2L821.3 1182.2L821.3 1186.3L825.5 1186.3L825.5 1182.2L829.6 1182.2L829.6 1178.0L829.6 1182.2L833.7 1178.0L833.7 1173.9L833.7 1178.0L837.9 1173.9L837.9 1169.7L837.9 1173.9L842.0 1169.7L842.0 1165.6L846.2 1157.3L846.2 1161.4L846.2 987.2L850.3 991.4L850.3 962.3L854.5 954.0L854.5 958.2L858.6 970.6L858.6 1016.3L862.8 1020.4L862.8 1061.9L866.9 1078.5L866.9 1086.8L871.1 1136.6L871.1 1157.3L875.2 1165.6L875.2 1178.0L879.4 1182.2L879.4 1178.0L879.4 1186.3L883.5 1186.3L883.5 1194.6L887.7 1190.5L887.7 1186.3L887.7 1194.6L891.8 1186.3L891.8 1190.5L896.0 1190.5L896.0 1194.6L896.0 1190.5L900.1 1190.5L900.1 1182.2L904.3 1190.5L908.4 1190.5L908.4 1186.3L912.6 1190.5L912.6 1186.3L912.6 1190.5L916.7 1186.3L916.7 1190.5L920.9 1190.5L925.0 1190.5L929.2 1190.5L929.2 1186.3L933.3 1190.5L937.4 1186.3L937.4 1182.2L941.6 1169.7L941.6 1161.4L945.7 1157.3L945.7 1153.1L949.9 1157.3L954.0 1153.1L954.0 1157.3L958.2 1157.3L958.2 1153.1L962.3 1153.1L962.3 1161.4L962.3 1157.3L966.5 1157.3L966.5 1153.1L966.5 1157.3L970.6 1157.3L970.6 1165.6L970.6 1161.4L974.8 1169.7L974.8 1178.0L978.9 1182.2L978.9 1190.5L983.1 1186.3L983.1 1190.5L987.2 1186.3L987.2 1190.5L991.4 1190.5L995.5 1186.3L995.5 1190.5L999.7 1190.5L999.7 1186.3L1003.8 1186.3L1003.8 1178.0L1008.0 1173.9L1008.0 1165.6L1012.1 1161.4L1012.1 1103.4L1016.3 1053.6L1016.3 1024.6L1020.4 1012.1L1020.4 1020.4L1020.4 1012.1L1024.6 1016.3L1024.6 1032.9L1028.7 1053.6L1028.7 1086.8L1032.9 1099.2L1032.9 1140.7L1037.0 1161.4L1037.0 1157.3L1037.0 1161.4L1041.1 1161.4L1041.1 1178.0L1045.3 1178.0L1045.3 1173.9L1045.3 1186.3L1049.4 1190.5L1053.6 1190.5L1053.6 1194.6L1057.7 1194.6L1057.7 1198.8L1057.7 1194.6L1061.9 1194.6L1061.9 1190.5L1066.0 1194.6L1066.0 1190.5L1070.2 1194.6L1074.3 1194.6L1078.5 1194.6L1082.6 1194.6L1086.8 1194.6L1086.8 1190.5L1090.9 1186.3L1095.1 1186.3L1095.1 1182.2L1099.2 1186.3L1103.4 1190.5L1103.4 1186.3L1107.5 1190.5L1107.5 1186.3L1111.7 1186.3L1111.7 1190.5L1115.8 1194.6L1120.0 1194.6L1124.1 1194.6L1128.3 1194.6L1132.4 1194.6L1132.4 1190.5L1136.6 1198.8L1136.6 1190.5L1136.6 1194.6L1140.7 1194.6L1144.8 1194.6L1144.8 1198.8L1144.8 1194.6L1149.0 1198.8L1149.0 1194.6L1153.1 1198.8L1153.1 1194.6L1157.3 1194.6L1161.4 1194.6L1161.4 1190.5L1161.4 1194.6L1165.6 1194.6L1165.6 1198.8L1165.6 1194.6L1169.7 1194.6L1169.7 1186.3L1173.9 1190.5L1173.9 1186.3L1178.0 1186.3L1178.0 1178.0L1182.2 1182.2L1182.2 1173.9L1186.3 1173.9L1186.3 1169.7L1186.3 1173.9L1190.5 1173.9L1190.5 1169.7L1194.6 1169.7L1194.6 1165.6L1194.6 1169.7L1198.8 1169.7L1198.8 1165.6L1198.8 1169.7L1198.8 1165.6L1202.9 1165.6L1207.1 1161.4L1207.1 1165.6L1211.2 1161.4L1211.2 1157.3L1215.4 1157.3L1215.4 1161.4L1219.5 1165.6L1219.5 1178.0L1223.7 1178.0L1223.7 1182.2L1227.8 1186.3L1227.8 1190.5L1232.0 1190.5L1232.0 1198.8L1236.1 1198.8L1236.1 1194.6L1240.3 1194.6L1244.4 1194.6L1244.4 1198.8L1248.5 1198.8L1248.5 1194.6L1252.7 1194.6L1256.8 1194.6L1256.8 1198.8L1261.0 1198.8L1261.0 1194.6L1261.0 1204.2Z"/>
<path d="M460.4 1225.2L460.4 1215.4L464.6 1215.4L468.7 1215.4L468.7 1219.5L468.7 1215.4L472.9 1215.4L477.0 1211.2L477.0 1215.4L477.0 1211.2L481.2 1211.2L485.3 1211.2L485.3 1207.1L489.5 1207.1L493.6 1207.1L493.6 1202.9L493.6 1207.1L497.8 1207.1L497.8 1198.8L497.8 1202.9L501.9 1198.8L501.9 1202.9L501.9 1198.8L506.1 1190.5L506.1 1198.8L510.2 1194.6L510.2 1190.5L510.2 1198.8L514.4 1190.5L514.4 1194.6L518.5 1186.3L518.5 1190.5L522.6 1186.3L522.6 1182.2L526.8 1186.3L526.8 1182.2L530.9 1182.2L530.9 1178.0L530.9 1182.2L535.1 1178.0L539.2 1178.0L539.2 1169.7L543.4 1173.9L547.5 1169.7L547.5 1173.9L551.7 1169.7L555.8 1169.7L555.8 1173.9L555.8 1165.6L560.0 1165.6L560.0 1169.7L564.1 1165.6L564.1 1169.7L564.1 1165.6L568.3 1169.7L572.4 1165.6L572.4 1169.7L576.6 1165.6L576.6 1169.7L580.7 1165.6L580.7 1169.7L584.9 1165.6L584.9 1173.9L584.9 1169.7L589.0 1173.9L589.0 1169.7L589.0 1173.9L593.2 1178.0L593.2 1173.9L597.3 1173.9L597.3 1169.7L601.5 1173.9L601.5 1178.0L605.6 1173.9L605.6 1169.7L609.8 1173.9L609.8 1178.0L613.9 1173.9L613.9 1178.0L618.1 1173.9L618.1 1178.0L618.1 1173.9L622.2 1182.2L622.2 1178.0L622.2 1182.2L626.3 1182.2L626.3 1178.0L630.5 1182.2L630.5 1186.3L634.6 1186.3L634.6 1182.2L634.6 1186.3L638.8 1182.2L638.8 1186.3L642.9 1182.2L642.9 1186.3L642.9 1182.2L647.1 1186.3L651.2 1186.3L655.4 1186.3L655.4 1190.5L659.5 1186.3L663.7 1186.3L663.7 1190.5L663.7 1186.3L667.8 1186.3L672.0 1186.3L672.0 1190.5L672.0 1186.3L676.1 1186.3L680.3 1186.3L680.3 1190.5L680.3 1186.3L684.4 1186.3L684.4 1190.5L688.6 1190.5L688.6 1186.3L688.6 1190.5L692.7 1190.5L696.9 1194.6L696.9 1186.3L701.0 1186.3L701.0 1178.0L705.2 1169.7L705.2 1136.6L709.3 1132.4L709.3 1124.1L713.5 1136.6L713.5 1132.4L713.5 1140.7L717.6 1149.0L717.6 1157.3L721.8 1157.3L721.8 1169.7L725.9 1173.9L725.9 1182.2L730.0 1182.2L730.0 1190.5L734.2 1186.3L734.2 1194.6L738.3 1190.5L738.3 1198.8L742.5 1194.6L742.5 1198.8L742.5 1194.6L746.6 1198.8L750.8 1198.8L750.8 1194.6L750.8 1202.9L754.9 1198.8L754.9 1202.9L759.1 1202.9L763.2 1198.8L763.2 1202.9L767.4 1202.9L767.4 1198.8L767.4 1202.9L771.5 1202.9L775.7 1202.9L775.7 1198.8L779.8 1202.9L784.0 1202.9L788.1 1202.9L788.1 1198.8L788.1 1202.9L792.3 1202.9L792.3 1198.8L796.4 1202.9L800.6 1202.9L804.7 1202.9L808.9 1202.9L808.9 1207.1L808.9 1202.9L813.0 1198.8L813.0 1202.9L813.0 1194.6L817.2 1198.8L817.2 1194.6L821.3 1194.6L821.3 1190.5L825.5 1186.3L825.5 1053.6L829.6 1020.4L829.6 995.5L833.7 991.4L833.7 978.9L833.7 995.5L837.9 991.4L837.9 1032.9L842.0 1049.4L842.0 1053.6L846.2 1103.4L846.2 1111.7L850.3 1115.8L850.3 1173.9L854.5 1182.2L854.5 1198.8L858.6 1202.9L858.6 1207.1L862.8 1207.1L862.8 1211.2L866.9 1207.1L866.9 1211.2L871.1 1211.2L875.2 1211.2L879.4 1207.1L879.4 1215.4L883.5 1211.2L883.5 1215.4L887.7 1211.2L891.8 1207.1L891.8 1211.2L896.0 1211.2L896.0 1207.1L896.0 1211.2L900.1 1211.2L900.1 1215.4L900.1 1211.2L904.3 1211.2L908.4 1211.2L908.4 1207.1L912.6 1211.2L912.6 1207.1L916.7 1211.2L916.7 1207.1L920.9 1202.9L920.9 1182.2L925.0 1182.2L925.0 1173.9L925.0 1178.0L929.2 1178.0L929.2 1173.9L929.2 1178.0L933.3 1178.0L933.3 1173.9L933.3 1178.0L937.4 1182.2L937.4 1173.9L941.6 1178.0L941.6 1173.9L945.7 1173.9L949.9 1178.0L949.9 1182.2L954.0 1190.5L954.0 1198.8L958.2 1198.8L958.2 1207.1L962.3 1211.2L966.5 1211.2L970.6 1211.2L970.6 1207.1L970.6 1211.2L974.8 1207.1L974.8 1211.2L978.9 1211.2L978.9 1207.1L983.1 1207.1L983.1 1202.9L987.2 1198.8L987.2 1190.5L991.4 1190.5L991.4 1182.2L995.5 1111.7L995.5 1049.4L999.7 1045.3L999.7 1041.1L1003.8 1041.1L1003.8 1049.4L1003.8 1045.3L1003.8 1053.6L1008.0 1053.6L1008.0 1095.1L1012.1 1111.7L1012.1 1144.8L1016.3 1161.4L1016.3 1182.2L1020.4 1182.2L1020.4 1190.5L1024.6 1194.6L1024.6 1202.9L1028.7 1211.2L1032.9 1215.4L1037.0 1215.4L1037.0 1211.2L1037.0 1215.4L1041.1 1215.4L1041.1 1211.2L1041.1 1215.4L1045.3 1215.4L1049.4 1211.2L1049.4 1215.4L1053.6 1215.4L1057.7 1211.2L1057.7 1219.5L1061.9 1211.2L1061.9 1219.5L1061.9 1215.4L1066.0 1215.4L1066.0 1211.2L1070.2 1207.1L1074.3 1207.1L1074.3 1211.2L1078.5 1211.2L1078.5 1207.1L1082.6 1207.1L1082.6 1211.2L1082.6 1207.1L1086.8 1207.1L1090.9 1207.1L1090.9 1211.2L1090.9 1207.1L1090.9 1211.2L1095.1 1211.2L1099.2 1215.4L1103.4 1219.5L1103.4 1215.4L1107.5 1215.4L1107.5 1211.2L1107.5 1219.5L1111.7 1215.4L1115.8 1219.5L1115.8 1215.4L1120.0 1215.4L1120.0 1211.2L1120.0 1215.4L1124.1 1215.4L1128.3 1215.4L1132.4 1215.4L1132.4 1219.5L1136.6 1215.4L1140.7 1215.4L1140.7 1211.2L1144.8 1219.5L1144.8 1211.2L1144.8 1215.4L1149.0 1215.4L1153.1 1211.2L1157.3 1202.9L1161.4 1198.8L1161.4 1194.6L1165.6 1194.6L1169.7 1194.6L1169.7 1190.5L1173.9 1190.5L1173.9 1186.3L1178.0 1190.5L1178.0 1186.3L1182.2 1186.3L1186.3 1190.5L1186.3 1186.3L1190.5 1178.0L1190.5 1182.2L1194.6 1178.0L1194.6 1182.2L1198.8 1182.2L1198.8 1186.3L1202.9 1198.8L1202.9 1202.9L1207.1 1202.9L1207.1 1207.1L1211.2 1211.2L1211.2 1215.4L1215.4 1219.5L1215.4 1215.4L1219.5 1219.5L1219.5 1215.4L1223.7 1215.4L1227.8 1215.4L1232.0 1215.4L1232.0 1219.5L1232.0 1215.4L1236.1 1219.5L1236.1 1215.4L1240.3 1219.5L1240.3 1211.2L1240.3 1215.4L1240.3 1225.2Z"/>
<path d="M439.7 1246.3L439.7 1240.3L443.8 1240.3L443.8 1236.1L443.8 1240.3L448.0 1240.3L448.0 1236.1L452.1 1236.1L452.1 1232.0L456.3 1232.0L456.3 1236.1L460.4 1232.0L460.4 1236.1L460.4 1232.0L464.6 1232.0L464.6 1227.8L468.7 1227.8L472.9 1227.8L477.0 1227.8L477.0 1223.7L481.2 1223.7L481.2 1219.5L485.3 1219.5L485.3 1215.4L489.5 1215.4L493.6 1215.4L493.6 1211.2L497.8 1211.2L497.8 1215.4L501.9 1207.1L501.9 1211.2L501.9 1207.1L506.1 1207.1L510.2 1207.1L510.2 1202.9L510.2 1207.1L514.4 1202.9L514.4 1198.8L514.4 1207.1L518.5 1202.9L518.5 1194.6L522.6 1198.8L522.6 1194.6L526.8 1190.5L526.8 1194.6L530.9 1194.6L535.1 1194.6L539.2 1190.5L539.2 1194.6L543.4 1194.6L543.4 1186.3L547.5 1190.5L547.5 1194.6L551.7 1190.5L551.7 1194.6L555.8 1194.6L555.8 1186.3L555.8 1194.6L560.0 1194.6L560.0 1190.5L564.1 1194.6L564.1 1190.5L564.1 1194.6L568.3 1194.6L568.3 1190.5L568.3 1194.6L572.4 1190.5L572.4 1198.8L572.4 1194.6L576.6 1194.6L576.6 1198.8L580.7 1198.8L580.7 1194.6L580.7 1198.8L584.9 1194.6L584.9 1198.8L589.0 1198.8L589.0 1202.9L593.2 1198.8L597.3 1202.9L597.3 1198.8L601.5 1198.8L601.5 1202.9L605.6 1202.9L609.8 1202.9L609.8 1207.1L609.8 1202.9L609.8 1207.1L613.9 1207.1L613.9 1202.9L613.9 1207.1L618.1 1207.1L622.2 1207.1L622.2 1211.2L626.3 1207.1L626.3 1211.2L626.3 1207.1L630.5 1207.1L630.5 1211.2L634.6 1211.2L634.6 1207.1L634.6 1211.2L634.6 1207.1L638.8 1211.2L638.8 1202.9L642.9 1207.1L642.9 1211.2L647.1 1207.1L647.1 1211.2L651.2 1207.1L651.2 1215.4L651.2 1211.2L655.4 1211.2L655.4 1207.1L655.4 1215.4L659.5 1211.2L659.5 1215.4L663.7 1215.4L663.7 1211.2L667.8 1211.2L672.0 1215.4L672.0 1211.2L672.0 1215.4L676.1 1211.2L676.1 1207.1L676.1 1211.2L680.3 1207.1L680.3 1211.2L680.3 1207.1L684.4 1202.9L684.4 1169.7L688.6 1161.4L688.6 1157.3L692.7 1153.1L692.7 1161.4L696.9 1169.7L696.9 1165.6L696.9 1173.9L701.0 1178.0L701.0 1190.5L705.2 1194.6L705.2 1202.9L709.3 1202.9L709.3 1211.2L709.3 1207.1L713.5 1215.4L713.5 1211.2L713.5 1219.5L717.6 1219.5L717.6 1211.2L717.6 1215.4L721.8 1219.5L721.8 1215.4L725.9 1219.5L730.0 1223.7L730.0 1219.5L730.0 1223.7L734.2 1219.5L734.2 1223.7L738.3 1223.7L742.5 1223.7L746.6 1223.7L746.6 1227.8L750.8 1227.8L750.8 1223.7L754.9 1223.7L754.9 1227.8L759.1 1223.7L759.1 1227.8L759.1 1223.7L763.2 1227.8L763.2 1223.7L767.4 1223.7L767.4 1227.8L771.5 1223.7L771.5 1227.8L771.5 1219.5L775.7 1223.7L775.7 1227.8L775.7 1223.7L779.8 1219.5L779.8 1227.8L779.8 1219.5L784.0 1227.8L784.0 1223.7L784.0 1227.8L788.1 1227.8L792.3 1219.5L792.3 1223.7L792.3 1219.5L796.4 1219.5L796.4 1215.4L800.6 1215.4L800.6 1211.2L804.7 1207.1L804.7 1202.9L808.9 1049.4L808.9 1016.3L813.0 1012.1L813.0 1008.0L813.0 1012.1L817.2 1008.0L817.2 1024.6L821.3 1066.0L821.3 1070.2L821.3 1066.0L825.5 1090.9L825.5 1132.4L829.6 1132.4L829.6 1198.8L833.7 1194.6L833.7 1215.4L837.9 1219.5L837.9 1232.0L842.0 1227.8L846.2 1232.0L850.3 1232.0L850.3 1227.8L850.3 1232.0L854.5 1236.1L854.5 1227.8L854.5 1232.0L858.6 1232.0L858.6 1236.1L862.8 1232.0L862.8 1236.1L862.8 1232.0L866.9 1227.8L866.9 1232.0L871.1 1232.0L875.2 1232.0L875.2 1236.1L875.2 1232.0L879.4 1236.1L879.4 1227.8L879.4 1236.1L883.5 1232.0L887.7 1232.0L891.8 1232.0L891.8 1236.1L896.0 1236.1L896.0 1232.0L900.1 1227.8L900.1 1215.4L904.3 1207.1L904.3 1202.9L908.4 1194.6L908.4 1202.9L912.6 1198.8L912.6 1194.6L916.7 1202.9L916.7 1198.8L916.7 1202.9L920.9 1202.9L920.9 1198.8L920.9 1202.9L925.0 1194.6L925.0 1198.8L929.2 1202.9L929.2 1198.8L933.3 1207.1L933.3 1215.4L937.4 1219.5L937.4 1223.7L941.6 1227.8L941.6 1232.0L945.7 1227.8L945.7 1232.0L949.9 1232.0L954.0 1232.0L958.2 1227.8L958.2 1232.0L962.3 1232.0L962.3 1223.7L966.5 1219.5L966.5 1215.4L970.6 1207.1L970.6 1211.2L970.6 1207.1L974.8 1202.9L974.8 1082.6L978.9 1078.5L978.9 1061.9L978.9 1070.2L983.1 1066.0L987.2 1078.5L987.2 1107.5L991.4 1124.1L991.4 1149.0L995.5 1165.6L995.5 1202.9L999.7 1198.8L999.7 1211.2L1003.8 1211.2L1003.8 1223.7L1008.0 1223.7L1008.0 1236.1L1012.1 1232.0L1016.3 1236.1L1020.4 1236.1L1024.6 1236.1L1024.6 1240.3L1024.6 1236.1L1028.7 1232.0L1028.7 1236.1L1032.9 1236.1L1037.0 1236.1L1037.0 1240.3L1037.0 1236.1L1041.1 1236.1L1041.1 1240.3L1045.3 1232.0L1045.3 1236.1L1049.4 1232.0L1053.6 1227.8L1053.6 1232.0L1057.7 1227.8L1057.7 1232.0L1057.7 1227.8L1061.9 1227.8L1066.0 1227.8L1066.0 1232.0L1066.0 1227.8L1070.2 1236.1L1070.2 1227.8L1074.3 1232.0L1078.5 1236.1L1082.6 1236.1L1086.8 1236.1L1086.8 1232.0L1086.8 1236.1L1090.9 1240.3L1090.9 1236.1L1095.1 1232.0L1095.1 1236.1L1099.2 1236.1L1099.2 1240.3L1099.2 1236.1L1103.4 1236.1L1103.4 1240.3L1107.5 1236.1L1107.5 1240.3L1111.7 1240.3L1111.7 1236.1L1115.8 1236.1L1120.0 1236.1L1124.1 1236.1L1128.3 1236.1L1128.3 1240.3L1128.3 1232.0L1132.4 1236.1L1132.4 1232.0L1132.4 1236.1L1132.4 1227.8L1136.6 1227.8L1140.7 1223.7L1140.7 1219.5L1144.8 1211.2L1144.8 1219.5L1144.8 1215.4L1149.0 1215.4L1149.0 1211.2L1153.1 1211.2L1157.3 1211.2L1157.3 1207.1L1157.3 1211.2L1161.4 1211.2L1165.6 1211.2L1165.6 1202.9L1169.7 1202.9L1169.7 1207.1L1169.7 1202.9L1173.9 1202.9L1173.9 1198.8L1178.0 1202.9L1178.0 1215.4L1182.2 1215.4L1182.2 1219.5L1186.3 1219.5L1186.3 1227.8L1190.5 1227.8L1190.5 1236.1L1194.6 1236.1L1198.8 1236.1L1198.8 1240.3L1198.8 1236.1L1198.8 1240.3L1202.9 1240.3L1202.9 1236.1L1202.9 1240.3L1207.1 1236.1L1211.2 1236.1L1211.2 1240.3L1211.2 1236.1L1215.4 1240.3L1215.4 1236.1L1215.4 1240.3L1219.5 1236.1L1219.5 1240.3L1219.5 1236.1L1223.7 1240.3L1223.7 1246.3Z"/>
</g>
<g font-family="'Liberation Sans', Arial, sans-serif" font-size="44.5" fill="#0000ff" text-anchor="middle" letter-spacing="1.6">
<text x="441.5" y="1322.3">400</text>
<text x="557.2" y="1322.3">450</text>
<text x="672.9" y="1322.3">500</text>
<text x="788.6" y="1322.3">550</text>
<text x="904.3" y="1322.3">600</text>
<text x="1020.0" y="1322.3">650</text>
<text x="1135.7" y="1322.3">700</text>
</g>
<g font-family="'Liberation Sans', Arial, sans-serif" font-weight="bold" fill="#000">
<text x="566.5" y="1380.7" font-size="58.7">Wavelength (nm)</text>
<text x="1606.5" y="922.3" font-size="59.4">0 min</text>
<text x="1277.5" y="1271.2" font-size="60">240 min</text>
</g>
<path d="M1640.4 947.6L1433.8 1183.6" stroke="#000" stroke-width="8.5" stroke-linecap="round" fill="none"/>
<path d="M1408.9 1212.4L1425.2 1178.8L1438.6 1187.7Z" fill="#000" stroke="#000" stroke-width="8" stroke-linejoin="round"/>
<g stroke="#000" stroke-width="8.6" stroke-linecap="round" stroke-linejoin="round" fill="none">
<rect x="330.4" y="62.4" width="1836.9" height="1364.8"/>
<path d="M330.4 1427.2H305.0"/>
<path d="M330.4 1322.2H317.2"/>
<path d="M330.4 1217.2H305.0"/>
<path d="M330.4 1112.3H317.2"/>
<path d="M330.4 1007.3H305.0"/>
<path d="M330.4 902.3H317.2"/>
<path d="M330.4 797.4H305.0"/>
<path d="M330.4 692.4H317.2"/>
<path d="M330.4 587.4H305.0"/>
<path d="M330.4 482.4H317.2"/>
<path d="M330.4 377.5H305.0"/>
<path d="M330.4 272.5H317.2"/>
<path d="M330.4 167.5H305.0"/>
<path d="M330.4 62.5H317.2"/>
<path d="M397.8 1427.2V1453.6"/>
<path d="M568.0 1427.2V1440.6"/>
<path d="M738.2 1427.2V1453.6"/>
<path d="M908.4 1427.2V1440.6"/>
<path d="M1078.6 1427.2V1453.6"/>
<path d="M1248.8 1427.2V1440.6"/>
<path d="M1419.0 1427.2V1453.6"/>
<path d="M1589.2 1427.2V1440.6"/>
<path d="M1759.4 1427.2V1453.6"/>
<path d="M1929.6 1427.2V1440.6"/>
<path d="M2099.8 1427.2V1453.6"/>
</g>
<g font-family="'Liberation Sans', Arial, sans-serif" font-size="80" fill="#000">
<text x="286.5" y="1449.0" text-anchor="end">40</text>
<text x="286.5" y="1238.2" text-anchor="end">50</text>
<text x="286.5" y="1032.8" text-anchor="end">60</text>
<text x="286.5" y="822.6" text-anchor="end">70</text>
<text x="286.5" y="611.9" text-anchor="end">80</text>
<text x="286.5" y="403.0" text-anchor="end">90</text>
<text x="286.5" y="192.5" text-anchor="end">100</text>
<text x="399.0" y="1533" text-anchor="middle">0</text>
<text x="738.8" y="1533" text-anchor="middle">50</text>
<text x="1078.6" y="1533" text-anchor="middle">100</text>
<text x="1418.4" y="1533" text-anchor="middle">150</text>
<text x="1758.2" y="1533" text-anchor="middle">200</text>
<text x="2098.0" y="1533" text-anchor="middle">250</text>
</g>
<g font-family="'Liberation Sans', Arial, sans-serif" font-weight="bold" font-size="85.5" fill="#000" text-anchor="middle">
<text x="1249.5" y="1671.7" font-size="84.4">Time (min)</text>
<text transform="translate(120 747) rotate(-90)">Normalised Intensity (%)</text>
</g>
</svg>
</body>
</html>
